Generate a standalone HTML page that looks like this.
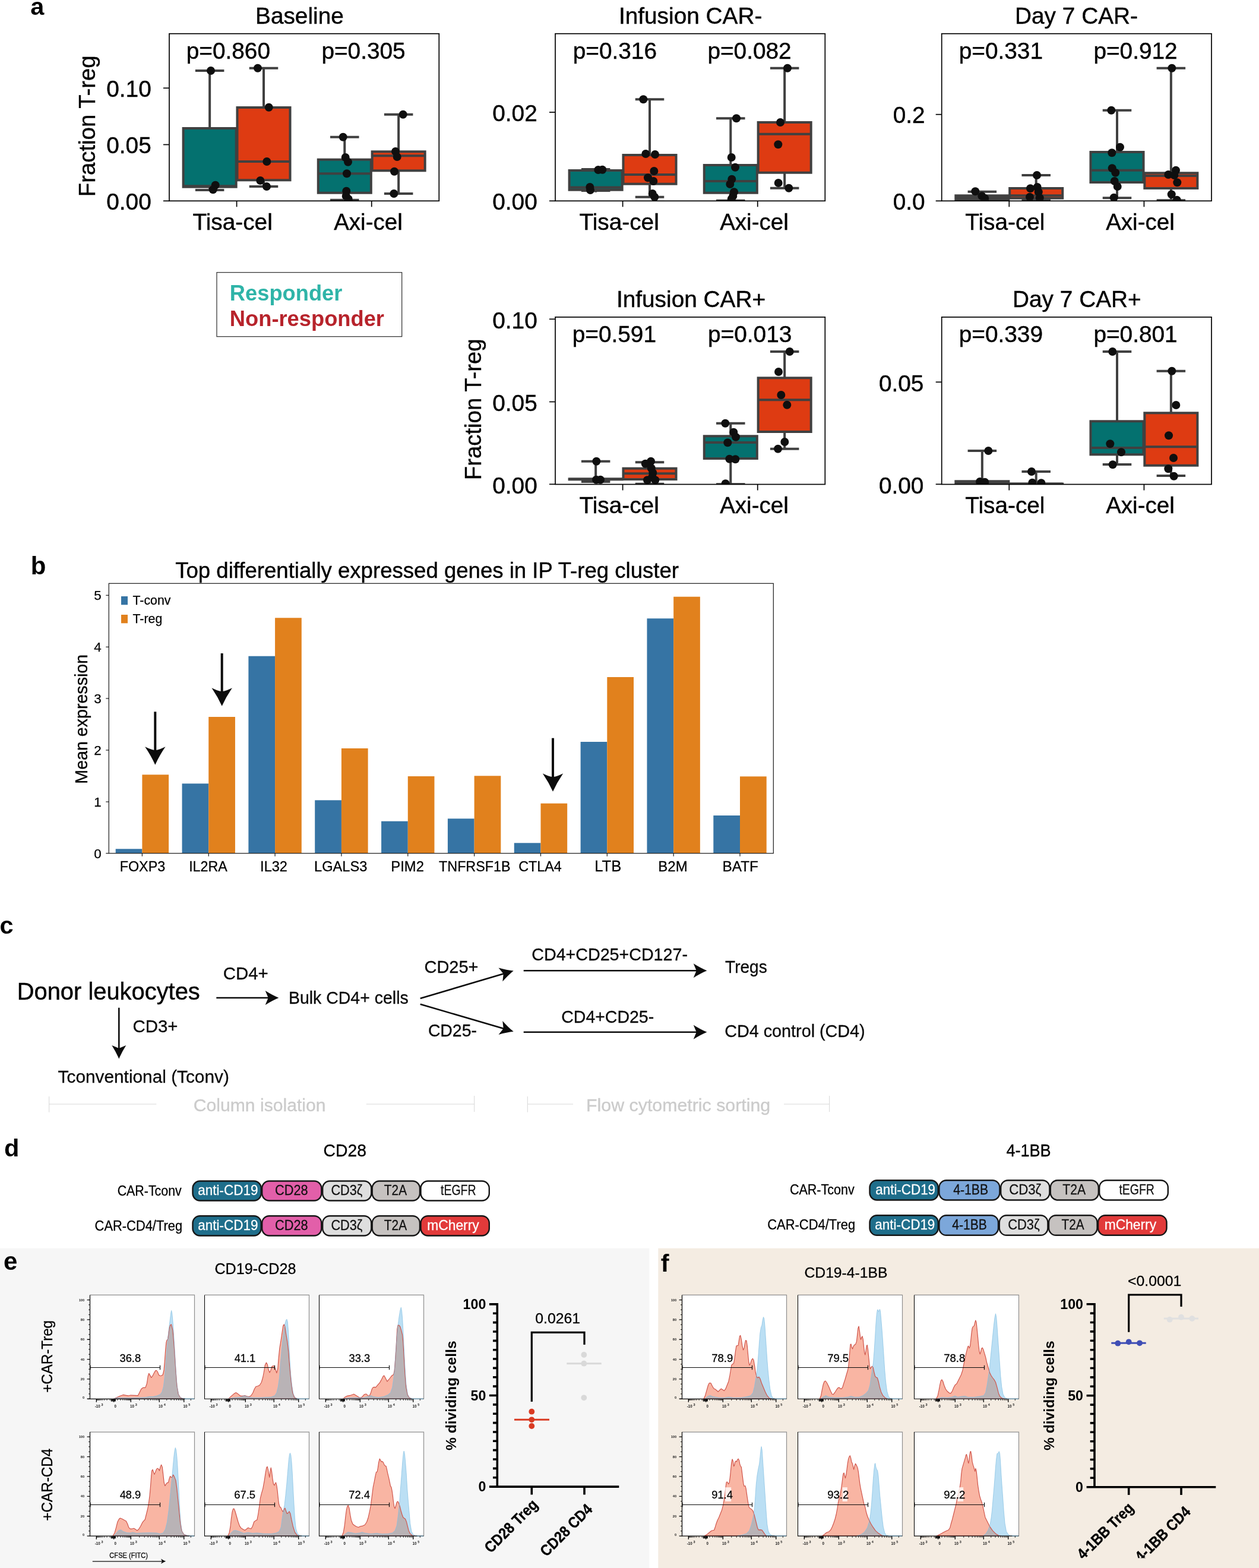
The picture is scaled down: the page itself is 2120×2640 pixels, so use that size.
<!DOCTYPE html>
<html lang="en">
<head>
<meta charset="utf-8">
<title>Figure: T-reg fractions and CAR-Treg suppression</title>
<style>
html,body{margin:0;padding:0;background:#fff;}
body{width:2120px;height:2640px;overflow:hidden;}
svg{display:block;font-family:"Liberation Sans",sans-serif;}
text{white-space:pre;}
</style>
</head>
<body>
<svg width="2120" height="2640" viewBox="0 0 2120 2640">
<rect x="0" y="0" width="2120" height="2640" fill="#fff"/>
<g id="panel-a">
<text x="51.36" y="25" font-size="41.5" font-weight="bold">a</text>
<g id="P1">
<clipPath id="cpP1"><rect x="285" y="56.7" width="454.3" height="281.6"/></clipPath>
<g clip-path="url(#cpP1)">
<path d="M353.14 119V214M353.14 316.7V320M330.88 119H375.41M330.88 320H375.41" stroke="#404040" stroke-width="4" fill="none" stroke-linecap="square"/>
<rect x="308.62" y="216" width="89.04" height="98.7" fill="#04716f" stroke="#404040" stroke-width="4"/>
<line x1="308.62" y1="313.3" x2="397.67" y2="313.3" stroke="#404040" stroke-width="4"/>
<path d="M444 114.7V179M444 305.3V314M421.74 114.7H466.27M421.74 314H466.27" stroke="#404040" stroke-width="4" fill="none" stroke-linecap="square"/>
<rect x="399.48" y="181" width="89.04" height="122.3" fill="#de3b12" stroke="#404040" stroke-width="4"/>
<line x1="399.48" y1="272" x2="488.53" y2="272" stroke="#404040" stroke-width="4"/>
<path d="M580.3 230.7V266.7M580.3 326.7V336.7M558.03 230.7H602.56M558.03 336.7H602.56" stroke="#404040" stroke-width="4" fill="none" stroke-linecap="square"/>
<rect x="535.77" y="268.7" width="89.04" height="56" fill="#04716f" stroke="#404040" stroke-width="4"/>
<line x1="535.77" y1="292.3" x2="624.82" y2="292.3" stroke="#404040" stroke-width="4"/>
<path d="M671.15 192.7V253.3M671.15 289.3V326M648.89 192.7H693.42M648.89 326H693.42" stroke="#404040" stroke-width="4" fill="none" stroke-linecap="square"/>
<rect x="626.63" y="255.3" width="89.04" height="32" fill="#de3b12" stroke="#404040" stroke-width="4"/>
<line x1="626.63" y1="262.3" x2="715.68" y2="262.3" stroke="#404040" stroke-width="4"/>
<g fill="#0f0f0f"><circle cx="355" cy="119" r="7"/><circle cx="362.7" cy="311.7" r="7"/><circle cx="358.7" cy="319.3" r="7"/><circle cx="434" cy="114.7" r="7"/><circle cx="452.7" cy="180.7" r="7"/><circle cx="449.3" cy="272" r="7"/><circle cx="438.3" cy="304" r="7"/><circle cx="449" cy="314" r="7"/><circle cx="577.7" cy="230.7" r="7"/><circle cx="581.7" cy="265" r="7"/><circle cx="586" cy="272.7" r="7"/><circle cx="584" cy="292.3" r="7"/><circle cx="583.3" cy="321.7" r="7"/><circle cx="582.7" cy="330" r="7"/><circle cx="586.7" cy="335" r="7"/><circle cx="678.7" cy="192.7" r="7"/><circle cx="666" cy="255" r="7"/><circle cx="668.7" cy="264" r="7"/><circle cx="664" cy="288.7" r="7"/><circle cx="663.3" cy="326" r="7"/></g>
</g>
<rect x="285" y="56.7" width="454.3" height="281.6" fill="none" stroke="#000" stroke-width="1.7"/>
<line x1="398.57" y1="338.3" x2="398.57" y2="348.3" stroke="#000" stroke-width="1.7"/>
<line x1="625.73" y1="338.3" x2="625.73" y2="348.3" stroke="#000" stroke-width="1.7"/>
<line x1="275" y1="148.3" x2="285" y2="148.3" stroke="#000" stroke-width="1.7"/>
<text x="179.25" y="162.9" font-size="38.8" stroke="#000" stroke-width="0.43">0.10</text>
<line x1="275" y1="243.5" x2="285" y2="243.5" stroke="#000" stroke-width="1.7"/>
<text x="179.25" y="258.1" font-size="38.8" stroke="#000" stroke-width="0.43">0.05</text>
<line x1="275" y1="338.3" x2="285" y2="338.3" stroke="#000" stroke-width="1.7"/>
<text x="179.25" y="352.9" font-size="38.8" stroke="#000" stroke-width="0.43">0.00</text>
<text x="430" y="40" font-size="38.8" stroke="#000" stroke-width="0.43">Baseline</text>
<text x="313.68" y="98.9" font-size="38.8" stroke="#000" stroke-width="0.43">p=0.860</text>
<text x="541.38" y="98.9" font-size="38.8" stroke="#000" stroke-width="0.43">p=0.305</text>
<text x="324.43" y="386.9" font-size="38.8" stroke="#000" stroke-width="0.43">Tisa-cel</text>
<text x="562.2" y="386.9" font-size="38.5" stroke="#000" stroke-width="0.42">Axi-cel</text>
<text font-size="38.3" stroke="#000" stroke-width="0.42" transform="translate(160.2 331.16) rotate(-90)">Fraction T-reg</text>
</g>
<g id="P2">
<clipPath id="cpP2"><rect x="935" y="56.7" width="454.3" height="281.6"/></clipPath>
<g clip-path="url(#cpP2)">
<path d="M1003.14 285V285M1003.14 321.7V321M980.88 285H1025.41M980.88 321H1025.41" stroke="#404040" stroke-width="4" fill="none" stroke-linecap="square"/>
<rect x="958.62" y="287" width="89.04" height="32.7" fill="#04716f" stroke="#404040" stroke-width="4"/>
<line x1="958.62" y1="315.5" x2="1047.67" y2="315.5" stroke="#404040" stroke-width="4"/>
<path d="M1094.01 167.3V259M1094.01 311.7V331.7M1071.74 167.3H1116.27M1071.74 331.7H1116.27" stroke="#404040" stroke-width="4" fill="none" stroke-linecap="square"/>
<rect x="1049.48" y="261" width="89.04" height="48.7" fill="#de3b12" stroke="#404040" stroke-width="4"/>
<line x1="1049.48" y1="294" x2="1138.53" y2="294" stroke="#404040" stroke-width="4"/>
<path d="M1230.29 199.3V276M1230.29 326.7V337.7M1208.03 199.3H1252.56M1208.03 337.7H1252.56" stroke="#404040" stroke-width="4" fill="none" stroke-linecap="square"/>
<rect x="1185.77" y="278" width="89.04" height="46.7" fill="#04716f" stroke="#404040" stroke-width="4"/>
<line x1="1185.77" y1="305" x2="1274.82" y2="305" stroke="#404040" stroke-width="4"/>
<path d="M1321.15 114.7V204M1321.15 292.7V316.7M1298.89 114.7H1343.42M1298.89 316.7H1343.42" stroke="#404040" stroke-width="4" fill="none" stroke-linecap="square"/>
<rect x="1276.63" y="206" width="89.04" height="84.7" fill="#de3b12" stroke="#404040" stroke-width="4"/>
<line x1="1276.63" y1="225.7" x2="1365.68" y2="225.7" stroke="#404040" stroke-width="4"/>
<g fill="#0f0f0f"><circle cx="1007.3" cy="286" r="7"/><circle cx="1014.3" cy="285.7" r="7"/><circle cx="993.3" cy="315" r="7"/><circle cx="994" cy="320" r="7"/><circle cx="1083.3" cy="167.3" r="7"/><circle cx="1087.3" cy="259" r="7"/><circle cx="1103" cy="260" r="7"/><circle cx="1101.3" cy="288" r="7"/><circle cx="1091" cy="299.3" r="7"/><circle cx="1100.3" cy="305" r="7"/><circle cx="1098.7" cy="326" r="7"/><circle cx="1102.3" cy="331.7" r="7"/><circle cx="1240" cy="199.3" r="7"/><circle cx="1231.7" cy="265" r="7"/><circle cx="1238" cy="281.7" r="7"/><circle cx="1232.3" cy="301.7" r="7"/><circle cx="1229.3" cy="310" r="7"/><circle cx="1236" cy="323.3" r="7"/><circle cx="1234.3" cy="330" r="7"/><circle cx="1231.7" cy="335" r="7"/><circle cx="1326" cy="114.7" r="7"/><circle cx="1314" cy="206" r="7"/><circle cx="1310.3" cy="243.3" r="7"/><circle cx="1310.7" cy="308" r="7"/><circle cx="1328.3" cy="316.7" r="7"/></g>
</g>
<rect x="935" y="56.7" width="454.3" height="281.6" fill="none" stroke="#000" stroke-width="1.7"/>
<line x1="1048.58" y1="338.3" x2="1048.58" y2="348.3" stroke="#000" stroke-width="1.7"/>
<line x1="1275.72" y1="338.3" x2="1275.72" y2="348.3" stroke="#000" stroke-width="1.7"/>
<line x1="925" y1="189" x2="935" y2="189" stroke="#000" stroke-width="1.7"/>
<text x="829.25" y="203.6" font-size="38.8" stroke="#000" stroke-width="0.43">0.02</text>
<line x1="925" y1="338.3" x2="935" y2="338.3" stroke="#000" stroke-width="1.7"/>
<text x="829.25" y="352.9" font-size="38.8" stroke="#000" stroke-width="0.43">0.00</text>
<text x="1041.91" y="40" font-size="38.8" stroke="#000" stroke-width="0.43">Infusion CAR-</text>
<text x="964.68" y="98.9" font-size="38.8" stroke="#000" stroke-width="0.43">p=0.316</text>
<text x="1191.38" y="98.9" font-size="38.8" stroke="#000" stroke-width="0.43">p=0.082</text>
<text x="975.43" y="386.9" font-size="38.8" stroke="#000" stroke-width="0.43">Tisa-cel</text>
<text x="1212.2" y="386.9" font-size="38.5" stroke="#000" stroke-width="0.42">Axi-cel</text>
</g>
<g id="P3">
<clipPath id="cpP3"><rect x="1585.7" y="56.7" width="454.3" height="281.6"/></clipPath>
<g clip-path="url(#cpP3)">
<path d="M1653.85 322.7V327.3M1653.85 338.5V337.5M1631.58 322.7H1676.11M1631.58 337.5H1676.11" stroke="#404040" stroke-width="4" fill="none" stroke-linecap="square"/>
<rect x="1609.32" y="329.3" width="89.04" height="7.2" fill="#04716f" stroke="#404040" stroke-width="4"/>
<line x1="1609.32" y1="333" x2="1698.37" y2="333" stroke="#404040" stroke-width="4"/>
<path d="M1744.71 295V315M1744.71 335.7V337M1722.44 295H1766.97M1722.44 337H1766.97" stroke="#404040" stroke-width="4" fill="none" stroke-linecap="square"/>
<rect x="1700.18" y="317" width="89.04" height="16.7" fill="#de3b12" stroke="#404040" stroke-width="4"/>
<line x1="1700.18" y1="329.3" x2="1789.23" y2="329.3" stroke="#404040" stroke-width="4"/>
<path d="M1881 185.7V254M1881 309V333.3M1858.73 185.7H1903.26M1858.73 333.3H1903.26" stroke="#404040" stroke-width="4" fill="none" stroke-linecap="square"/>
<rect x="1836.47" y="256" width="89.04" height="51" fill="#04716f" stroke="#404040" stroke-width="4"/>
<line x1="1836.47" y1="286.7" x2="1925.52" y2="286.7" stroke="#404040" stroke-width="4"/>
<path d="M1971.86 114.7V289.3M1971.86 319V337.3M1949.59 114.7H1994.12M1949.59 337.3H1994.12" stroke="#404040" stroke-width="4" fill="none" stroke-linecap="square"/>
<rect x="1927.33" y="291.3" width="89.04" height="25.7" fill="#de3b12" stroke="#404040" stroke-width="4"/>
<line x1="1927.33" y1="296" x2="2016.38" y2="296" stroke="#404040" stroke-width="4"/>
<g fill="#0f0f0f"><circle cx="1642.3" cy="322.3" r="7"/><circle cx="1653.3" cy="330" r="7"/><circle cx="1658.3" cy="334" r="7"/><circle cx="1746" cy="295" r="7"/><circle cx="1735" cy="317.3" r="7"/><circle cx="1746.7" cy="315" r="7"/><circle cx="1748.7" cy="323.3" r="7"/><circle cx="1734" cy="331.7" r="7"/><circle cx="1750.7" cy="333.3" r="7"/><circle cx="1871.3" cy="185.7" r="7"/><circle cx="1886" cy="247.7" r="7"/><circle cx="1872.3" cy="257.3" r="7"/><circle cx="1872.7" cy="283.3" r="7"/><circle cx="1878.3" cy="290.7" r="7"/><circle cx="1876.7" cy="305" r="7"/><circle cx="1881.7" cy="314" r="7"/><circle cx="1875.7" cy="332.7" r="7"/><circle cx="1973.3" cy="114.7" r="7"/><circle cx="1980" cy="286.7" r="7"/><circle cx="1967.3" cy="294" r="7"/><circle cx="1977.3" cy="295" r="7"/><circle cx="1982.3" cy="307.3" r="7"/><circle cx="1972.7" cy="327.3" r="7"/><circle cx="1981.7" cy="336.7" r="7"/></g>
</g>
<rect x="1585.7" y="56.7" width="454.3" height="281.6" fill="none" stroke="#000" stroke-width="1.7"/>
<line x1="1699.28" y1="338.3" x2="1699.28" y2="348.3" stroke="#000" stroke-width="1.7"/>
<line x1="1926.43" y1="338.3" x2="1926.43" y2="348.3" stroke="#000" stroke-width="1.7"/>
<line x1="1575.7" y1="192.7" x2="1585.7" y2="192.7" stroke="#000" stroke-width="1.7"/>
<text x="1503.65" y="207.3" font-size="38.8" stroke="#000" stroke-width="0.43">0.2</text>
<line x1="1575.7" y1="338.3" x2="1585.7" y2="338.3" stroke="#000" stroke-width="1.7"/>
<text x="1503.65" y="352.9" font-size="38.8" stroke="#000" stroke-width="0.43">0.0</text>
<text x="1709" y="40" font-size="38.8" stroke="#000" stroke-width="0.43">Day 7 CAR-</text>
<text x="1614.68" y="98.9" font-size="38.8" stroke="#000" stroke-width="0.43">p=0.331</text>
<text x="1841.38" y="98.9" font-size="38.8" stroke="#000" stroke-width="0.43">p=0.912</text>
<text x="1625.13" y="386.9" font-size="38.8" stroke="#000" stroke-width="0.43">Tisa-cel</text>
<text x="1862.2" y="386.9" font-size="38.5" stroke="#000" stroke-width="0.42">Axi-cel</text>
</g>
<g id="P4">
<clipPath id="cpP4"><rect x="935" y="533.9" width="454.3" height="281.6"/></clipPath>
<g clip-path="url(#cpP4)">
<path d="M1003.14 776.7V804.3M1003.14 809.3V811M980.88 776.7H1025.41M980.88 811H1025.41" stroke="#404040" stroke-width="4" fill="none" stroke-linecap="square"/>
<rect x="958.62" y="806.3" width="89.04" height="1" fill="#04716f" stroke="#404040" stroke-width="4"/>
<line x1="958.62" y1="806.8" x2="1047.67" y2="806.8" stroke="#404040" stroke-width="4"/>
<path d="M1094.01 778.3V786.7M1094.01 809V814.7M1071.74 778.3H1116.27M1071.74 814.7H1116.27" stroke="#404040" stroke-width="4" fill="none" stroke-linecap="square"/>
<rect x="1049.48" y="788.7" width="89.04" height="18.3" fill="#de3b12" stroke="#404040" stroke-width="4"/>
<line x1="1049.48" y1="797.3" x2="1138.53" y2="797.3" stroke="#404040" stroke-width="4"/>
<path d="M1230.29 712.7V732.3M1230.29 774V815.3M1208.03 712.7H1252.56M1208.03 815.3H1252.56" stroke="#404040" stroke-width="4" fill="none" stroke-linecap="square"/>
<rect x="1185.77" y="734.3" width="89.04" height="37.7" fill="#04716f" stroke="#404040" stroke-width="4"/>
<line x1="1185.77" y1="745" x2="1274.82" y2="745" stroke="#404040" stroke-width="4"/>
<path d="M1321.15 592V634.3M1321.15 729V755.7M1298.89 592H1343.42M1298.89 755.7H1343.42" stroke="#404040" stroke-width="4" fill="none" stroke-linecap="square"/>
<rect x="1276.63" y="636.3" width="89.04" height="90.7" fill="#de3b12" stroke="#404040" stroke-width="4"/>
<line x1="1276.63" y1="673.3" x2="1365.68" y2="673.3" stroke="#404040" stroke-width="4"/>
<g fill="#0f0f0f"><circle cx="1004.3" cy="776.7" r="7"/><circle cx="1004" cy="807.7" r="7"/><circle cx="1011" cy="807.7" r="7"/><circle cx="1096" cy="776.7" r="7"/><circle cx="1086.7" cy="780.7" r="7"/><circle cx="1096.7" cy="788.3" r="7"/><circle cx="1099.3" cy="796" r="7"/><circle cx="1098.3" cy="803.3" r="7"/><circle cx="1090" cy="808.3" r="7"/><circle cx="1103.3" cy="808.3" r="7"/><circle cx="1221.3" cy="712.7" r="7"/><circle cx="1235.3" cy="727.7" r="7"/><circle cx="1239" cy="735.7" r="7"/><circle cx="1225.3" cy="745.3" r="7"/><circle cx="1228.3" cy="772.7" r="7"/><circle cx="1238.3" cy="773.3" r="7"/><circle cx="1221.7" cy="814.3" r="7"/><circle cx="1329.7" cy="592" r="7"/><circle cx="1311" cy="626" r="7"/><circle cx="1315.3" cy="665" r="7"/><circle cx="1325.3" cy="681.7" r="7"/><circle cx="1321.3" cy="744" r="7"/><circle cx="1310" cy="755.7" r="7"/></g>
</g>
<rect x="935" y="533.9" width="454.3" height="281.6" fill="none" stroke="#000" stroke-width="1.7"/>
<line x1="1048.58" y1="815.5" x2="1048.58" y2="825.5" stroke="#000" stroke-width="1.7"/>
<line x1="1275.72" y1="815.5" x2="1275.72" y2="825.5" stroke="#000" stroke-width="1.7"/>
<line x1="925" y1="537.3" x2="935" y2="537.3" stroke="#000" stroke-width="1.7"/>
<text x="829.25" y="552.5" font-size="38.8" stroke="#000" stroke-width="0.43">0.10</text>
<line x1="925" y1="676.5" x2="935" y2="676.5" stroke="#000" stroke-width="1.7"/>
<text x="829.25" y="691.7" font-size="38.8" stroke="#000" stroke-width="0.43">0.05</text>
<line x1="925" y1="815.3" x2="935" y2="815.3" stroke="#000" stroke-width="1.7"/>
<text x="829.25" y="830.5" font-size="38.8" stroke="#000" stroke-width="0.43">0.00</text>
<text x="1037.91" y="517.2" font-size="38.8" stroke="#000" stroke-width="0.43">Infusion CAR+</text>
<text x="963.68" y="576.1" font-size="38.8" stroke="#000" stroke-width="0.43">p=0.591</text>
<text x="1191.98" y="576.1" font-size="38.8" stroke="#000" stroke-width="0.43">p=0.013</text>
<text x="975.43" y="864.1" font-size="38.8" stroke="#000" stroke-width="0.43">Tisa-cel</text>
<text x="1212.2" y="864.1" font-size="38.5" stroke="#000" stroke-width="0.42">Axi-cel</text>
<text font-size="38.3" stroke="#000" stroke-width="0.42" transform="translate(809.9 808.16) rotate(-90)">Fraction T-reg</text>
</g>
<g id="P5">
<clipPath id="cpP5"><rect x="1585.7" y="533.9" width="454.3" height="281.6"/></clipPath>
<g clip-path="url(#cpP5)">
<path d="M1653.85 759V808.3M1653.85 816.5V815M1631.58 759H1676.11M1631.58 815H1676.11" stroke="#404040" stroke-width="4" fill="none" stroke-linecap="square"/>
<rect x="1609.32" y="810.3" width="89.04" height="4.2" fill="#04716f" stroke="#404040" stroke-width="4"/>
<line x1="1609.32" y1="812" x2="1698.37" y2="812" stroke="#404040" stroke-width="4"/>
<path d="M1744.71 794V813.5M1744.71 816V815M1722.44 794H1766.97M1722.44 815H1766.97" stroke="#404040" stroke-width="4" fill="none" stroke-linecap="square"/>
<rect x="1700.18" y="814.6" width="89.04" height="0.3" fill="#de3b12" stroke="#404040" stroke-width="4"/>
<line x1="1700.18" y1="814.5" x2="1789.23" y2="814.5" stroke="#404040" stroke-width="4"/>
<path d="M1881 592V707.3M1881 767.3V782M1858.73 592H1903.26M1858.73 782H1903.26" stroke="#404040" stroke-width="4" fill="none" stroke-linecap="square"/>
<rect x="1836.47" y="709.3" width="89.04" height="56" fill="#04716f" stroke="#404040" stroke-width="4"/>
<line x1="1836.47" y1="754" x2="1925.52" y2="754" stroke="#404040" stroke-width="4"/>
<path d="M1971.86 624.7V693.3M1971.86 785.7V801M1949.59 624.7H1994.12M1949.59 801H1994.12" stroke="#404040" stroke-width="4" fill="none" stroke-linecap="square"/>
<rect x="1927.33" y="695.3" width="89.04" height="88.4" fill="#de3b12" stroke="#404040" stroke-width="4"/>
<line x1="1927.33" y1="752.3" x2="2016.38" y2="752.3" stroke="#404040" stroke-width="4"/>
<g fill="#0f0f0f"><circle cx="1664.3" cy="759" r="7"/><circle cx="1650" cy="811" r="7"/><circle cx="1658.3" cy="811.7" r="7"/><circle cx="1737" cy="794" r="7"/><circle cx="1738.3" cy="812.7" r="7"/><circle cx="1753.3" cy="813.3" r="7"/><circle cx="1873.3" cy="592" r="7"/><circle cx="1869.3" cy="747.3" r="7"/><circle cx="1888" cy="761.3" r="7"/><circle cx="1873.7" cy="782.3" r="7"/><circle cx="1973.3" cy="624.7" r="7"/><circle cx="1980.3" cy="682" r="7"/><circle cx="1968" cy="733.3" r="7"/><circle cx="1976" cy="771" r="7"/><circle cx="1967.3" cy="789.3" r="7"/><circle cx="1976.7" cy="801.7" r="7"/></g>
</g>
<rect x="1585.7" y="533.9" width="454.3" height="281.6" fill="none" stroke="#000" stroke-width="1.7"/>
<line x1="1699.28" y1="815.5" x2="1699.28" y2="825.5" stroke="#000" stroke-width="1.7"/>
<line x1="1926.43" y1="815.5" x2="1926.43" y2="825.5" stroke="#000" stroke-width="1.7"/>
<line x1="1575.7" y1="643.3" x2="1585.7" y2="643.3" stroke="#000" stroke-width="1.7"/>
<text x="1479.95" y="658.5" font-size="38.8" stroke="#000" stroke-width="0.43">0.05</text>
<line x1="1575.7" y1="815.3" x2="1585.7" y2="815.3" stroke="#000" stroke-width="1.7"/>
<text x="1479.95" y="830.5" font-size="38.8" stroke="#000" stroke-width="0.43">0.00</text>
<text x="1705" y="517.2" font-size="38.8" stroke="#000" stroke-width="0.43">Day 7 CAR+</text>
<text x="1614.68" y="576.1" font-size="38.8" stroke="#000" stroke-width="0.43">p=0.339</text>
<text x="1841.38" y="576.1" font-size="38.8" stroke="#000" stroke-width="0.43">p=0.801</text>
<text x="1625.13" y="864.1" font-size="38.8" stroke="#000" stroke-width="0.43">Tisa-cel</text>
<text x="1862.2" y="864.1" font-size="38.5" stroke="#000" stroke-width="0.42">Axi-cel</text>
</g>
<rect x="365" y="458.7" width="311.7" height="108" fill="#fff" stroke="#2b2b2b" stroke-width="1.2"/>
<text x="386.85" y="506" font-size="36.3" font-weight="bold" fill="#2fb4a8">Responder</text>
<text x="386.85" y="549" font-size="36.3" font-weight="bold" fill="#b7232b">Non-responder</text>
</g>
<g id="panel-b">
<text x="51.87" y="966.7" font-size="42" font-weight="bold">b</text>
<text x="295.18" y="973.3" font-size="36.6" stroke="#000" stroke-width="0.4">Top differentially expressed genes in IP T-reg cluster</text>
<g fill="#3674a4"><rect x="194.7" y="1429.3" width="44.7" height="7.4"/><rect x="306.54" y="1319.3" width="44.7" height="117.4"/><rect x="418.39" y="1104.7" width="44.7" height="332"/><rect x="530.23" y="1347.3" width="44.7" height="89.4"/><rect x="642.08" y="1382.7" width="44.7" height="54"/><rect x="753.92" y="1378.3" width="44.7" height="58.4"/><rect x="865.77" y="1419.3" width="44.7" height="17.4"/><rect x="977.61" y="1249" width="44.7" height="187.7"/><rect x="1089.46" y="1041.3" width="44.7" height="395.4"/><rect x="1201.3" y="1373" width="44.7" height="63.7"/></g>
<g fill="#e1811d"><rect x="239.4" y="1304.3" width="44.7" height="132.4"/><rect x="351.24" y="1207" width="44.7" height="229.7"/><rect x="463.09" y="1040.3" width="44.7" height="396.4"/><rect x="574.93" y="1260" width="44.7" height="176.7"/><rect x="686.78" y="1307" width="44.7" height="129.7"/><rect x="798.62" y="1306.3" width="44.7" height="130.4"/><rect x="910.47" y="1352.7" width="44.7" height="84"/><rect x="1022.31" y="1140" width="44.7" height="296.7"/><rect x="1134.16" y="1004.7" width="44.7" height="432"/><rect x="1246" y="1307.3" width="44.7" height="129.4"/></g>
<rect x="183.3" y="982.3" width="1119" height="454.4" fill="none" stroke="#1a1a1a" stroke-width="1.2"/>
<line x1="239.4" y1="1436.7" x2="239.4" y2="1441.7" stroke="#1a1a1a" stroke-width="1.2"/>
<text x="201.67" y="1466.7" font-size="23.38" stroke="#000" stroke-width="0.26">FOXP3</text>
<line x1="351.24" y1="1436.7" x2="351.24" y2="1441.7" stroke="#1a1a1a" stroke-width="1.2"/>
<text x="318.15" y="1466.7" font-size="23.24" stroke="#000" stroke-width="0.26">IL2RA</text>
<line x1="463.09" y1="1436.7" x2="463.09" y2="1441.7" stroke="#1a1a1a" stroke-width="1.2"/>
<text x="438.12" y="1466.7" font-size="23.52" stroke="#000" stroke-width="0.26">IL32</text>
<line x1="574.93" y1="1436.7" x2="574.93" y2="1441.7" stroke="#1a1a1a" stroke-width="1.2"/>
<text x="529.05" y="1466.7" font-size="23.61" stroke="#000" stroke-width="0.26">LGALS3</text>
<line x1="686.78" y1="1436.7" x2="686.78" y2="1441.7" stroke="#1a1a1a" stroke-width="1.2"/>
<text x="658.33" y="1466.7" font-size="23.82" stroke="#000" stroke-width="0.26">PIM2</text>
<line x1="798.62" y1="1436.7" x2="798.62" y2="1441.7" stroke="#1a1a1a" stroke-width="1.2"/>
<text x="739.08" y="1466.7" font-size="23.31" stroke="#000" stroke-width="0.26">TNFRSF1B</text>
<line x1="910.47" y1="1436.7" x2="910.47" y2="1441.7" stroke="#1a1a1a" stroke-width="1.2"/>
<text x="873.13" y="1466.7" font-size="23.31" stroke="#000" stroke-width="0.26">CTLA4</text>
<line x1="1022.31" y1="1436.7" x2="1022.31" y2="1441.7" stroke="#1a1a1a" stroke-width="1.2"/>
<text x="1001.18" y="1466.7" font-size="25.66" stroke="#000" stroke-width="0.28">LTB</text>
<line x1="1134.16" y1="1436.7" x2="1134.16" y2="1441.7" stroke="#1a1a1a" stroke-width="1.2"/>
<text x="1108.32" y="1466.7" font-size="24.02" stroke="#000" stroke-width="0.26">B2M</text>
<line x1="1246" y1="1436.7" x2="1246" y2="1441.7" stroke="#1a1a1a" stroke-width="1.2"/>
<text x="1216.59" y="1466.7" font-size="24.35" stroke="#000" stroke-width="0.27">BATF</text>
<line x1="178.3" y1="1436.7" x2="183.3" y2="1436.7" stroke="#1a1a1a" stroke-width="1.2"/>
<text x="170.6" y="1444.7" font-size="22.4" stroke="#000" stroke-width="0.25" text-anchor="end">0</text>
<line x1="178.3" y1="1350" x2="183.3" y2="1350" stroke="#1a1a1a" stroke-width="1.2"/>
<text x="170.6" y="1358" font-size="22.4" stroke="#000" stroke-width="0.25" text-anchor="end">1</text>
<line x1="178.3" y1="1263" x2="183.3" y2="1263" stroke="#1a1a1a" stroke-width="1.2"/>
<text x="170.6" y="1271" font-size="22.4" stroke="#000" stroke-width="0.25" text-anchor="end">2</text>
<line x1="178.3" y1="1176" x2="183.3" y2="1176" stroke="#1a1a1a" stroke-width="1.2"/>
<text x="170.6" y="1184" font-size="22.4" stroke="#000" stroke-width="0.25" text-anchor="end">3</text>
<line x1="178.3" y1="1089.3" x2="183.3" y2="1089.3" stroke="#1a1a1a" stroke-width="1.2"/>
<text x="170.6" y="1097.3" font-size="22.4" stroke="#000" stroke-width="0.25" text-anchor="end">4</text>
<line x1="178.3" y1="1002.3" x2="183.3" y2="1002.3" stroke="#1a1a1a" stroke-width="1.2"/>
<text x="170.6" y="1010.3" font-size="22.4" stroke="#000" stroke-width="0.25" text-anchor="end">5</text>
<text font-size="28.6" stroke="#000" stroke-width="0.31" transform="translate(146.7 1319.66) rotate(-90)">Mean expression</text>
<rect x="204" y="1004" width="11" height="14.3" fill="#3674a4"/>
<rect x="204" y="1035" width="11" height="14.3" fill="#e1811d"/>
<text x="223.52" y="1018.3" font-size="21.3" stroke="#000" stroke-width="0.25">T-conv</text>
<text x="223.52" y="1049.3" font-size="21.3" stroke="#000" stroke-width="0.25">T-reg</text>
<path d="M261.3 1198.3V1264.2" stroke="#0c0c0c" stroke-width="4" fill="none"/>
<path d="M261.3 1287.7Q254.42 1272.45 244.1 1257.2Q253.56 1262 261.3 1263.2Q269.04 1262 278.5 1257.2Q268.18 1272.45 261.3 1287.7Z" fill="#0c0c0c"/>
<path d="M373.7 1100V1165.2" stroke="#0c0c0c" stroke-width="4" fill="none"/>
<path d="M373.7 1188.7Q366.82 1173.45 356.5 1158.2Q365.96 1163 373.7 1164.2Q381.44 1163 390.9 1158.2Q380.58 1173.45 373.7 1188.7Z" fill="#0c0c0c"/>
<path d="M931 1242.7V1309.2" stroke="#0c0c0c" stroke-width="4" fill="none"/>
<path d="M931 1332.7Q924.12 1317.45 913.8 1302.2Q923.26 1307 931 1308.2Q938.74 1307 948.2 1302.2Q937.88 1317.45 931 1332.7Z" fill="#0c0c0c"/>
</g>
<g id="panel-c">
<text x="-0.46" y="1571.7" font-size="41.5" font-weight="bold">c</text>
<text x="28.71" y="1683.3" font-size="39.88" stroke="#000" stroke-width="0.44">Donor leukocytes</text>
<text x="375.83" y="1648.8" font-size="29.4" stroke="#0a0a0a" stroke-width="0.32" fill="#0a0a0a">CD4+</text>
<text x="223.53" y="1737.8" font-size="29.4" stroke="#0a0a0a" stroke-width="0.32" fill="#0a0a0a">CD3+</text>
<text x="97.63" y="1823.2" font-size="29.4" stroke="#0a0a0a" stroke-width="0.32" fill="#0a0a0a" textLength="288.21" lengthAdjust="spacingAndGlyphs">Tconventional (Tconv)</text>
<text x="485.95" y="1689.8" font-size="29.4" stroke="#0a0a0a" stroke-width="0.32" fill="#0a0a0a" textLength="201.78" lengthAdjust="spacingAndGlyphs">Bulk CD4+ cells</text>
<text x="714.55" y="1637.8" font-size="29.4" stroke="#0a0a0a" stroke-width="0.32" fill="#0a0a0a" textLength="90.84" lengthAdjust="spacingAndGlyphs">CD25+</text>
<text x="720.88" y="1744.5" font-size="29.4" stroke="#0a0a0a" stroke-width="0.32" fill="#0a0a0a" textLength="82.02" lengthAdjust="spacingAndGlyphs">CD25-</text>
<text x="895.27" y="1616.5" font-size="29.4" stroke="#0a0a0a" stroke-width="0.32" fill="#0a0a0a" textLength="262.68" lengthAdjust="spacingAndGlyphs">CD4+CD25+CD127-</text>
<text x="945.28" y="1722.2" font-size="29.4" stroke="#0a0a0a" stroke-width="0.32" fill="#0a0a0a" textLength="155.91" lengthAdjust="spacingAndGlyphs">CD4+CD25-</text>
<text x="1221.07" y="1637.8" font-size="29.4" stroke="#0a0a0a" stroke-width="0.32" fill="#0a0a0a" textLength="70.59" lengthAdjust="spacingAndGlyphs">Tregs</text>
<text x="1220.26" y="1745.5" font-size="29.4" stroke="#0a0a0a" stroke-width="0.32" fill="#0a0a0a" textLength="236.44" lengthAdjust="spacingAndGlyphs">CD4 control (CD4)</text>
<text x="325.79" y="1871" font-size="30.14" stroke="#cbcbcb" stroke-width="0.33" fill="#cbcbcb">Column isolation</text>
<text x="987.1" y="1871" font-size="30.34" stroke="#cbcbcb" stroke-width="0.33" fill="#cbcbcb">Flow cytometric sorting</text>
<g transform="translate(364.3 1680) rotate(0)"><path d="M0 0H88.4" stroke="#0c0c0c" stroke-width="2.6" fill="none"/><path d="M105.1 0Q94.66 -4.32 82.4 -12L87.4 0L82.4 12Q94.66 4.32 105.1 0Z" fill="#0c0c0c"/></g>
<g transform="translate(200.3 1696.7) rotate(90)"><path d="M0 0H69.3" stroke="#0c0c0c" stroke-width="2.6" fill="none"/><path d="M86 0Q75.56 -4.32 63.3 -12L68.3 0L63.3 12Q75.56 4.32 86 0Z" fill="#0c0c0c"/></g>
<g transform="translate(707.7 1681) rotate(-16.47)"><path d="M0 0H147" stroke="#0c0c0c" stroke-width="2.6" fill="none"/><path d="M163.7 0Q153.27 -4.32 141 -12L146 0L141 12Q153.27 4.32 163.7 0Z" fill="#0c0c0c"/></g>
<g transform="translate(707.7 1690.7) rotate(16.37)"><path d="M0 0H146.92" stroke="#0c0c0c" stroke-width="2.6" fill="none"/><path d="M163.62 0Q153.18 -4.32 140.92 -12L145.92 0L140.92 12Q153.18 4.32 163.62 0Z" fill="#0c0c0c"/></g>
<g transform="translate(881.7 1634.3) rotate(0)"><path d="M0 0H292" stroke="#0c0c0c" stroke-width="2.6" fill="none"/><path d="M308.7 0Q298.26 -4.32 286 -12L291 0L286 12Q298.26 4.32 308.7 0Z" fill="#0c0c0c"/></g>
<g transform="translate(881.7 1737.7) rotate(0)"><path d="M0 0H292" stroke="#0c0c0c" stroke-width="2.6" fill="none"/><path d="M308.7 0Q298.26 -4.32 286 -12L291 0L286 12Q298.26 4.32 308.7 0Z" fill="#0c0c0c"/></g>
<path d="M82.7 1846V1872.7M82.7 1859H263.3M616.7 1859H798.7M798.7 1845V1872M888.3 1846V1872.7M888.3 1859H965M1320 1859H1396.7M1396.7 1845V1872" stroke="#d3d3d3" stroke-width="0.9" fill="none"/>
</g>
<g id="panel-d">
<text x="6.94" y="1947.3" font-size="41.5" font-weight="bold">d</text>
<text x="544.58" y="1946.7" font-size="29" stroke="#000" stroke-width="0.32" textLength="72.37" lengthAdjust="spacingAndGlyphs">CD28</text>
<text x="1694.39" y="1946.7" font-size="29" stroke="#000" stroke-width="0.32" textLength="75.31" lengthAdjust="spacingAndGlyphs">4-1BB</text>
<text x="197.63" y="2012.7" font-size="23.3" stroke="#000" stroke-width="0.26" textLength="108.11" lengthAdjust="spacingAndGlyphs">CAR-Tconv</text>
<text x="159.61" y="2071.7" font-size="23.3" stroke="#000" stroke-width="0.26" textLength="147.5" lengthAdjust="spacingAndGlyphs">CAR-CD4/Treg</text>
<text x="1329.92" y="2011" font-size="23.3" stroke="#000" stroke-width="0.26" textLength="108.81" lengthAdjust="spacingAndGlyphs">CAR-Tconv</text>
<text x="1292.2" y="2070" font-size="23.3" stroke="#000" stroke-width="0.26" textLength="147.91" lengthAdjust="spacingAndGlyphs">CAR-CD4/Treg</text>
<rect x="324.5" y="1988.5" width="115.3" height="33" fill="#1f6e8b" stroke="#161616" stroke-width="2.4" rx="12.2"/>
<text x="333.35" y="2012.3" font-size="23.6" stroke="#fff" stroke-width="0.26" fill="#fff" textLength="101.01" lengthAdjust="spacingAndGlyphs">anti-CD19</text>
<rect x="441.2" y="1988.5" width="100.1" height="33" fill="#e25fa9" stroke="#161616" stroke-width="2.4" rx="12.2"/>
<text x="463.11" y="2012.3" font-size="23.6" stroke="#111" stroke-width="0.26" fill="#111" textLength="55.55" lengthAdjust="spacingAndGlyphs">CD28</text>
<rect x="543.2" y="1988.5" width="82.1" height="33" fill="#dedede" stroke="#161616" stroke-width="2.4" rx="12.2"/>
<text x="557.41" y="2012.3" font-size="23.6" stroke="#111" stroke-width="0.26" fill="#111" textLength="53" lengthAdjust="spacingAndGlyphs">CD3ζ</text>
<rect x="626.7" y="1988.5" width="80.3" height="33" fill="#c6c2c0" stroke="#161616" stroke-width="2.4" rx="12.2"/>
<text x="646.83" y="2012.3" font-size="23.6" stroke="#111" stroke-width="0.26" fill="#111" textLength="38.2" lengthAdjust="spacingAndGlyphs">T2A</text>
<rect x="708.5" y="1988.5" width="115.3" height="33" fill="#fff" stroke="#161616" stroke-width="2.4" rx="12.2"/>
<text x="742.01" y="2012.3" font-size="23.6" stroke="#111" stroke-width="0.26" fill="#111" textLength="59.63" lengthAdjust="spacingAndGlyphs">tEGFR</text>
<rect x="324.5" y="2047.2" width="115.3" height="33.3" fill="#1f6e8b" stroke="#161616" stroke-width="2.4" rx="12.2"/>
<text x="333.35" y="2071.15" font-size="23.6" stroke="#fff" stroke-width="0.26" fill="#fff" textLength="101.01" lengthAdjust="spacingAndGlyphs">anti-CD19</text>
<rect x="441.2" y="2047.2" width="100.1" height="33.3" fill="#e25fa9" stroke="#161616" stroke-width="2.4" rx="12.2"/>
<text x="463.11" y="2071.15" font-size="23.6" stroke="#111" stroke-width="0.26" fill="#111" textLength="55.55" lengthAdjust="spacingAndGlyphs">CD28</text>
<rect x="543.2" y="2047.2" width="82.1" height="33.3" fill="#dedede" stroke="#161616" stroke-width="2.4" rx="12.2"/>
<text x="557.41" y="2071.15" font-size="23.6" stroke="#111" stroke-width="0.26" fill="#111" textLength="53" lengthAdjust="spacingAndGlyphs">CD3ζ</text>
<rect x="626.7" y="2047.2" width="80.3" height="33.3" fill="#c6c2c0" stroke="#161616" stroke-width="2.4" rx="12.2"/>
<text x="646.83" y="2071.15" font-size="23.6" stroke="#111" stroke-width="0.26" fill="#111" textLength="38.2" lengthAdjust="spacingAndGlyphs">T2A</text>
<rect x="708.5" y="2047.2" width="115.3" height="33.3" fill="#e23a3a" stroke="#161616" stroke-width="2.4" rx="12.2"/>
<text x="719.16" y="2071.15" font-size="23.6" stroke="#fff" stroke-width="0.26" fill="#fff" textLength="87.62" lengthAdjust="spacingAndGlyphs">mCherry</text>
<rect x="1464.5" y="1987.2" width="115.3" height="33.3" fill="#1f6e8b" stroke="#161616" stroke-width="2.4" rx="12.2"/>
<text x="1474.25" y="2011.15" font-size="23.6" stroke="#fff" stroke-width="0.26" fill="#fff" textLength="100.81" lengthAdjust="spacingAndGlyphs">anti-CD19</text>
<rect x="1581.4" y="1987.2" width="102" height="33.3" fill="#7ca7da" stroke="#161616" stroke-width="2.4" rx="12.2"/>
<text x="1605.22" y="2011.15" font-size="23.6" stroke="#111" stroke-width="0.26" fill="#111" textLength="58.87" lengthAdjust="spacingAndGlyphs">4-1BB</text>
<rect x="1685.2" y="1987.2" width="82.2" height="33.3" fill="#dedede" stroke="#161616" stroke-width="2.4" rx="12.2"/>
<text x="1699.19" y="2011.15" font-size="23.6" stroke="#111" stroke-width="0.26" fill="#111" textLength="54.23" lengthAdjust="spacingAndGlyphs">CD3ζ</text>
<rect x="1768.8" y="1987.2" width="81" height="33.3" fill="#c6c2c0" stroke="#161616" stroke-width="2.4" rx="12.2"/>
<text x="1789.22" y="2011.15" font-size="23.6" stroke="#111" stroke-width="0.26" fill="#111" textLength="38.81" lengthAdjust="spacingAndGlyphs">T2A</text>
<rect x="1851.2" y="1987.2" width="115.6" height="33.3" fill="#fff" stroke="#161616" stroke-width="2.4" rx="12.2"/>
<text x="1884.41" y="2011.15" font-size="23.6" stroke="#111" stroke-width="0.26" fill="#111" textLength="59.53" lengthAdjust="spacingAndGlyphs">tEGFR</text>
<rect x="1464.5" y="2046.2" width="115.3" height="33.6" fill="#1f6e8b" stroke="#161616" stroke-width="2.4" rx="12.2"/>
<text x="1473.25" y="2070.3" font-size="23.6" stroke="#fff" stroke-width="0.26" fill="#fff" textLength="101.11" lengthAdjust="spacingAndGlyphs">anti-CD19</text>
<rect x="1581.4" y="2046.2" width="99.6" height="33.6" fill="#7ca7da" stroke="#161616" stroke-width="2.4" rx="12.2"/>
<text x="1603.23" y="2070.3" font-size="23.6" stroke="#111" stroke-width="0.26" fill="#111" textLength="58.57" lengthAdjust="spacingAndGlyphs">4-1BB</text>
<rect x="1682.8" y="2046.2" width="81.6" height="33.6" fill="#dedede" stroke="#161616" stroke-width="2.4" rx="12.2"/>
<text x="1697.2" y="2070.3" font-size="23.6" stroke="#111" stroke-width="0.26" fill="#111" textLength="53.51" lengthAdjust="spacingAndGlyphs">CD3ζ</text>
<rect x="1766" y="2046.2" width="81.6" height="33.6" fill="#c6c2c0" stroke="#161616" stroke-width="2.4" rx="12.2"/>
<text x="1787.53" y="2070.3" font-size="23.6" stroke="#111" stroke-width="0.26" fill="#111" textLength="38.2" lengthAdjust="spacingAndGlyphs">T2A</text>
<rect x="1849" y="2046.2" width="115.5" height="33.6" fill="#e23a3a" stroke="#161616" stroke-width="2.4" rx="12.2"/>
<text x="1859.76" y="2070.3" font-size="23.6" stroke="#fff" stroke-width="0.26" fill="#fff" textLength="87.32" lengthAdjust="spacingAndGlyphs">mCherry</text>
</g>
<g id="panel-ef">
<rect x="0" y="2101.7" width="1093.3" height="540" fill="#f6f6f6"/>
<rect x="1108.3" y="2101.7" width="1012" height="540" fill="#f4ece2"/>
<text x="5.92" y="2138.3" font-size="42" font-weight="bold">e</text>
<text x="1112.77" y="2140.7" font-size="41.5" font-weight="bold">f</text>
<text x="361.44" y="2145" font-size="25.15" stroke="#000" stroke-width="0.28">CD19-CD28</text>
<text x="1354.46" y="2151" font-size="24.71" stroke="#000" stroke-width="0.27">CD19-4-1BB</text>
<text font-size="26.6" textLength="121.75" lengthAdjust="spacingAndGlyphs" transform="translate(87.9 2344.75) rotate(-90)" stroke="#000" stroke-width="0.3">+CAR-Treg</text>
<text font-size="26.6" textLength="121.95" lengthAdjust="spacingAndGlyphs" transform="translate(87.9 2560.65) rotate(-90)" stroke="#000" stroke-width="0.3">+CAR-CD4</text>
<g id="he1">
<rect x="151.5" y="2180.43" width="176" height="174.82" fill="#fff"/>
<clipPath id="ce1"><rect x="151.5" y="2180.43" width="176" height="174.82"/></clipPath>
<clipPath id="re1"><path d="M191.75 2355.05L197.37 2352.43L202.36 2350.31L207.35 2348.44L212.34 2349.31L216.08 2349.94L219.83 2349.06L226.07 2349.44L232.31 2349.69L234.8 2344.7L237.92 2338.46L241.04 2336.34L244.78 2336.34L247.28 2329.72L249.15 2317.24L250.77 2312.25L252.52 2315.37L254.77 2319.37L256.64 2317.24L259.13 2312.25L261.63 2307.89L263.5 2307.26L265.37 2309.76L267.24 2314.75L269.12 2316.25L271.61 2316.25L274.11 2314.75L275.98 2307.26L277.48 2289.79L278.72 2272.32L279.97 2259.84L280.97 2256.72L282.47 2254.85L283.72 2247.37L284.96 2237.38L286.59 2231.14L288.46 2229.9L290.95 2239.88L293.45 2269.83L295.94 2307.26L297.82 2332.22L300.31 2347.19L303.43 2352.81L307.18 2354.68L310.92 2355.05Z"/></clipPath>
<g clip-path="url(#ce1)" stroke-linejoin="round">
<path d="M191.75 2355.05L197.37 2352.43L202.36 2350.31L207.35 2348.44L212.34 2349.31L216.08 2349.94L219.83 2349.06L226.07 2349.44L232.31 2349.69L234.8 2344.7L237.92 2338.46L241.04 2336.34L244.78 2336.34L247.28 2329.72L249.15 2317.24L250.77 2312.25L252.52 2315.37L254.77 2319.37L256.64 2317.24L259.13 2312.25L261.63 2307.89L263.5 2307.26L265.37 2309.76L267.24 2314.75L269.12 2316.25L271.61 2316.25L274.11 2314.75L275.98 2307.26L277.48 2289.79L278.72 2272.32L279.97 2259.84L280.97 2256.72L282.47 2254.85L283.72 2247.37L284.96 2237.38L286.59 2231.14L288.46 2229.9L290.95 2239.88L293.45 2269.83L295.94 2307.26L297.82 2332.22L300.31 2347.19L303.43 2352.81L307.18 2354.68L310.92 2355.05Z" fill="#f9b5a3"/>
<path d="M191.75 2355.05L197.37 2353.18L207.35 2353.43L219.83 2353.68L232.31 2353.18L244.78 2352.81L251.02 2351.56L257.26 2351.56L263.5 2350.31L269.74 2347.82L272.86 2343.45L275.36 2334.71L277.23 2319.74L279.1 2294.78L280.97 2269.83L282.84 2251.11L284.71 2234.89L286.59 2219.91L287.83 2209.93L288.71 2206.44L289.71 2211.18L290.95 2223.66L292.82 2251.11L294.7 2282.31L296.57 2313.5L298.44 2335.96L300.94 2348.44L304.06 2353.18L309.67 2354.68L312.17 2355.05Z" fill="#bbdff4"/>
<path d="M191.75 2355.05L197.37 2353.18L207.35 2353.43L219.83 2353.68L232.31 2353.18L244.78 2352.81L251.02 2351.56L257.26 2351.56L263.5 2350.31L269.74 2347.82L272.86 2343.45L275.36 2334.71L277.23 2319.74L279.1 2294.78L280.97 2269.83L282.84 2251.11L284.71 2234.89L286.59 2219.91L287.83 2209.93L288.71 2206.44L289.71 2211.18L290.95 2223.66L292.82 2251.11L294.7 2282.31L296.57 2313.5L298.44 2335.96L300.94 2348.44L304.06 2353.18L309.67 2354.68L312.17 2355.05Z" fill="#b9b3b6" clip-path="url(#re1)"/>
<path d="M191.75 2355.05L197.37 2352.43L202.36 2350.31L207.35 2348.44L212.34 2349.31L216.08 2349.94L219.83 2349.06L226.07 2349.44L232.31 2349.69L234.8 2344.7L237.92 2338.46L241.04 2336.34L244.78 2336.34L247.28 2329.72L249.15 2317.24L250.77 2312.25L252.52 2315.37L254.77 2319.37L256.64 2317.24L259.13 2312.25L261.63 2307.89L263.5 2307.26L265.37 2309.76L267.24 2314.75L269.12 2316.25L271.61 2316.25L274.11 2314.75L275.98 2307.26L277.48 2289.79L278.72 2272.32L279.97 2259.84L280.97 2256.72L282.47 2254.85L283.72 2247.37L284.96 2237.38L286.59 2231.14L288.46 2229.9L290.95 2239.88L293.45 2269.83L295.94 2307.26L297.82 2332.22L300.31 2347.19L303.43 2352.81L307.18 2354.68L310.92 2355.05Z" fill="none" stroke="#cf5349" stroke-width="1.15"/>
<path d="M191.75 2355.05L197.37 2353.18L207.35 2353.43L219.83 2353.68L232.31 2353.18L244.78 2352.81L251.02 2351.56L257.26 2351.56L263.5 2350.31L269.74 2347.82L272.86 2343.45L275.36 2334.71L277.23 2319.74L279.1 2294.78L280.97 2269.83L282.84 2251.11L284.71 2234.89L286.59 2219.91L287.83 2209.93L288.71 2206.44L289.71 2211.18L290.95 2223.66L292.82 2251.11L294.7 2282.31L296.57 2313.5L298.44 2335.96L300.94 2348.44L304.06 2353.18L309.67 2354.68L312.17 2355.05Z" fill="none" stroke="#7dbcdf" stroke-width="0.8" stroke-opacity="0.8"/>
</g>
<path d="M151.5 2180.43H327.5V2355.25" stroke="#8f8f8f" stroke-width="1.2" fill="none"/>
<path d="M151.5 2180.43V2355.25H327.5" stroke="#0a0a0a" stroke-width="1.25" fill="none"/>
<path d="M311.17 2355.25H326.9" stroke="#7dbcdf" stroke-width="1.1" stroke-opacity="0.85" fill="none"/>
<path d="M162.34 2355.25v5.6M191.63 2355.25v5.6M220.32 2355.25v5.6M268.29 2355.25v5.6M309.72 2355.25v5.6" stroke="#0a0a0a" stroke-width="1.4" fill="none"/>
<path d="M234.76 2355.25v2.8M243.21 2355.25v2.8M249.2 2355.25v2.8M253.85 2355.25v2.8M257.65 2355.25v2.8M260.86 2355.25v2.8M263.64 2355.25v2.8M266.1 2355.25v2.8M280.77 2355.25v2.8M288.06 2355.25v2.8M293.24 2355.25v2.8M297.25 2355.25v2.8M300.53 2355.25v2.8M303.31 2355.25v2.8M305.71 2355.25v2.8M307.83 2355.25v2.8M321.32 2355.25v2.8M197.93 2355.25v2.8M185.2 2355.25v2.8M203 2355.25v2.8M180.02 2355.25v2.8M206.87 2355.25v2.8M176.07 2355.25v2.8M209.9 2355.25v2.8M172.97 2355.25v2.8M212.36 2355.25v2.8M170.47 2355.25v2.8M214.41 2355.25v2.8M168.37 2355.25v2.8M216.18 2355.25v2.8M166.57 2355.25v2.8M217.72 2355.25v2.8M164.99 2355.25v2.8M219.09 2355.25v2.8M163.6 2355.25v2.8" stroke="#0a0a0a" stroke-width="0.9" fill="none"/>
<path d="M187.76 2355.25v4.2M189.87 2355.25v4.2M191.98 2355.25v4.2M193.92 2355.25v4.2" stroke="#0a0a0a" stroke-width="1.9" fill="none"/>
<text x="166.68" y="2370.25" font-size="6.3" font-weight="bold" text-anchor="middle" fill="#1a1a1a">-10<tspan dx="1.7" dy="-3.3" font-size="5.5">3</tspan></text>
<text x="194.27" y="2370.25" font-size="6.3" font-weight="bold" text-anchor="middle" fill="#1a1a1a">0</text>
<text x="225" y="2370.25" font-size="6.3" font-weight="bold" text-anchor="middle" fill="#1a1a1a">10<tspan dx="1.7" dy="-3.3" font-size="5.5">3</tspan></text>
<text x="272.98" y="2370.25" font-size="6.3" font-weight="bold" text-anchor="middle" fill="#1a1a1a">10<tspan dx="1.7" dy="-3.3" font-size="5.5">4</tspan></text>
<text x="314.41" y="2370.25" font-size="6.3" font-weight="bold" text-anchor="middle" fill="#1a1a1a">10<tspan dx="1.7" dy="-3.3" font-size="5.5">5</tspan></text>
<path d="M151.5 2355.25h-4.8M151.5 2321.91h-4.8M151.5 2288.57h-4.8M151.5 2255.23h-4.8M151.5 2221.89h-4.8M151.5 2188.54h-4.8" stroke="#0a0a0a" stroke-width="1.3" fill="none"/>
<path d="M151.5 2346.92h-2.4M151.5 2338.58h-2.4M151.5 2330.25h-2.4M151.5 2313.58h-2.4M151.5 2305.24h-2.4M151.5 2296.91h-2.4M151.5 2280.23h-2.4M151.5 2271.9h-2.4M151.5 2263.56h-2.4M151.5 2246.89h-2.4M151.5 2238.56h-2.4M151.5 2230.22h-2.4M151.5 2213.55h-2.4M151.5 2205.21h-2.4M151.5 2196.88h-2.4" stroke="#0a0a0a" stroke-width="1" fill="none"/>
<text x="142" y="2355.45" font-size="5.6" text-anchor="end" font-weight="bold" fill="#1a1a1a">0</text>
<text x="142" y="2323.91" font-size="5.6" text-anchor="end" font-weight="bold" fill="#1a1a1a">20</text>
<text x="142" y="2290.57" font-size="5.6" text-anchor="end" font-weight="bold" fill="#1a1a1a">40</text>
<text x="142" y="2257.23" font-size="5.6" text-anchor="end" font-weight="bold" fill="#1a1a1a">60</text>
<text x="142" y="2223.89" font-size="5.6" text-anchor="end" font-weight="bold" fill="#1a1a1a">80</text>
<text x="142" y="2190.54" font-size="5.6" text-anchor="end" font-weight="bold" fill="#1a1a1a">100</text>
<path d="M151.5 2302.5H269.5M152 2306.2v-7.4M269.5 2306.2v-7.4" stroke="#0a0a0a" stroke-width="1.2" fill="none"/>
<text x="201.41" y="2292.9" font-size="18.39" stroke="#000" stroke-width="0.28">36.8</text>
</g>
<g id="he2">
<rect x="344.5" y="2180.43" width="176" height="174.82" fill="#fff"/>
<clipPath id="ce2"><rect x="344.5" y="2180.43" width="176" height="174.82"/></clipPath>
<clipPath id="re2"><path d="M384.75 2355.05L389.12 2350.94L394.11 2346.57L397.23 2344.7L400.35 2346.57L404.72 2350.31L409.08 2350.31L412.2 2349.44L415.32 2350.69L419.69 2351.56L422.81 2349.69L425.93 2344.7L428.42 2338.46L430.92 2334.46L434.04 2333.72L437.16 2332.22L440.28 2327.23L442.77 2318.49L444.65 2308.51L446.27 2298.53L448.39 2294.16L450.26 2297.28L452.13 2306.01L454.01 2311.01L455.88 2307.26L457.75 2301.02L460.24 2299.53L462.12 2300.4L463.99 2306.01L465.86 2311.63L467.73 2304.77L468.98 2288.54L470.85 2269.83L473.35 2254.85L475.22 2242.37L476.72 2232.39L478.34 2229.9L479.59 2232.39L481.46 2244.87L483.95 2259.84L485.82 2276.07L487.7 2301.02L490.19 2325.98L492.69 2344.7L495.81 2352.81L500.18 2355.05Z"/></clipPath>
<g clip-path="url(#ce2)" stroke-linejoin="round">
<path d="M384.75 2355.05L389.12 2350.94L394.11 2346.57L397.23 2344.7L400.35 2346.57L404.72 2350.31L409.08 2350.31L412.2 2349.44L415.32 2350.69L419.69 2351.56L422.81 2349.69L425.93 2344.7L428.42 2338.46L430.92 2334.46L434.04 2333.72L437.16 2332.22L440.28 2327.23L442.77 2318.49L444.65 2308.51L446.27 2298.53L448.39 2294.16L450.26 2297.28L452.13 2306.01L454.01 2311.01L455.88 2307.26L457.75 2301.02L460.24 2299.53L462.12 2300.4L463.99 2306.01L465.86 2311.63L467.73 2304.77L468.98 2288.54L470.85 2269.83L473.35 2254.85L475.22 2242.37L476.72 2232.39L478.34 2229.9L479.59 2232.39L481.46 2244.87L483.95 2259.84L485.82 2276.07L487.7 2301.02L490.19 2325.98L492.69 2344.7L495.81 2352.81L500.18 2355.05Z" fill="#f9b5a3"/>
<path d="M384.75 2355.05L394.11 2353.18L406.59 2352.18L411.58 2349.44L415.32 2351.56L425.31 2353.18L437.78 2353.18L450.26 2352.43L456.5 2352.18L462.74 2349.69L465.86 2344.7L468.36 2334.71L470.48 2319.74L472.47 2294.78L474.59 2269.83L476.47 2251.11L478.34 2237.38L480.21 2227.4L481.71 2222.41L482.95 2221.16L484.2 2224.9L485.45 2239.88L486.7 2263.59L487.95 2288.54L489.57 2313.5L491.44 2332.22L493.94 2347.19L497.06 2353.43L501.42 2355.05Z" fill="#bbdff4"/>
<path d="M384.75 2355.05L394.11 2353.18L406.59 2352.18L411.58 2349.44L415.32 2351.56L425.31 2353.18L437.78 2353.18L450.26 2352.43L456.5 2352.18L462.74 2349.69L465.86 2344.7L468.36 2334.71L470.48 2319.74L472.47 2294.78L474.59 2269.83L476.47 2251.11L478.34 2237.38L480.21 2227.4L481.71 2222.41L482.95 2221.16L484.2 2224.9L485.45 2239.88L486.7 2263.59L487.95 2288.54L489.57 2313.5L491.44 2332.22L493.94 2347.19L497.06 2353.43L501.42 2355.05Z" fill="#b9b3b6" clip-path="url(#re2)"/>
<path d="M384.75 2355.05L389.12 2350.94L394.11 2346.57L397.23 2344.7L400.35 2346.57L404.72 2350.31L409.08 2350.31L412.2 2349.44L415.32 2350.69L419.69 2351.56L422.81 2349.69L425.93 2344.7L428.42 2338.46L430.92 2334.46L434.04 2333.72L437.16 2332.22L440.28 2327.23L442.77 2318.49L444.65 2308.51L446.27 2298.53L448.39 2294.16L450.26 2297.28L452.13 2306.01L454.01 2311.01L455.88 2307.26L457.75 2301.02L460.24 2299.53L462.12 2300.4L463.99 2306.01L465.86 2311.63L467.73 2304.77L468.98 2288.54L470.85 2269.83L473.35 2254.85L475.22 2242.37L476.72 2232.39L478.34 2229.9L479.59 2232.39L481.46 2244.87L483.95 2259.84L485.82 2276.07L487.7 2301.02L490.19 2325.98L492.69 2344.7L495.81 2352.81L500.18 2355.05Z" fill="none" stroke="#cf5349" stroke-width="1.15"/>
<path d="M384.75 2355.05L394.11 2353.18L406.59 2352.18L411.58 2349.44L415.32 2351.56L425.31 2353.18L437.78 2353.18L450.26 2352.43L456.5 2352.18L462.74 2349.69L465.86 2344.7L468.36 2334.71L470.48 2319.74L472.47 2294.78L474.59 2269.83L476.47 2251.11L478.34 2237.38L480.21 2227.4L481.71 2222.41L482.95 2221.16L484.2 2224.9L485.45 2239.88L486.7 2263.59L487.95 2288.54L489.57 2313.5L491.44 2332.22L493.94 2347.19L497.06 2353.43L501.42 2355.05Z" fill="none" stroke="#7dbcdf" stroke-width="0.8" stroke-opacity="0.8"/>
</g>
<path d="M344.5 2180.43H520.5V2355.25" stroke="#8f8f8f" stroke-width="1.2" fill="none"/>
<path d="M344.5 2180.43V2355.25H520.5" stroke="#0a0a0a" stroke-width="1.1" fill="none"/>
<path d="M500.42 2355.25H519.9" stroke="#7dbcdf" stroke-width="1.1" stroke-opacity="0.85" fill="none"/>
<path d="M355.34 2355.25v5.6M384.63 2355.25v5.6M413.32 2355.25v5.6M461.29 2355.25v5.6M502.72 2355.25v5.6" stroke="#0a0a0a" stroke-width="1.4" fill="none"/>
<path d="M427.76 2355.25v2.8M436.21 2355.25v2.8M442.2 2355.25v2.8M446.85 2355.25v2.8M450.65 2355.25v2.8M453.86 2355.25v2.8M456.64 2355.25v2.8M459.1 2355.25v2.8M473.77 2355.25v2.8M481.06 2355.25v2.8M486.24 2355.25v2.8M490.25 2355.25v2.8M493.53 2355.25v2.8M496.31 2355.25v2.8M498.71 2355.25v2.8M500.83 2355.25v2.8M514.32 2355.25v2.8M390.93 2355.25v2.8M378.2 2355.25v2.8M396 2355.25v2.8M373.02 2355.25v2.8M399.87 2355.25v2.8M369.07 2355.25v2.8M402.9 2355.25v2.8M365.97 2355.25v2.8M405.36 2355.25v2.8M363.47 2355.25v2.8M407.41 2355.25v2.8M361.37 2355.25v2.8M409.18 2355.25v2.8M359.57 2355.25v2.8M410.72 2355.25v2.8M357.99 2355.25v2.8M412.09 2355.25v2.8M356.6 2355.25v2.8" stroke="#0a0a0a" stroke-width="0.9" fill="none"/>
<path d="M380.76 2355.25v4.2M382.87 2355.25v4.2M384.98 2355.25v4.2M386.92 2355.25v4.2" stroke="#0a0a0a" stroke-width="1.9" fill="none"/>
<text x="359.68" y="2370.25" font-size="6.3" font-weight="bold" text-anchor="middle" fill="#1a1a1a">-10<tspan dx="1.7" dy="-3.3" font-size="5.5">3</tspan></text>
<text x="387.27" y="2370.25" font-size="6.3" font-weight="bold" text-anchor="middle" fill="#1a1a1a">0</text>
<text x="418" y="2370.25" font-size="6.3" font-weight="bold" text-anchor="middle" fill="#1a1a1a">10<tspan dx="1.7" dy="-3.3" font-size="5.5">3</tspan></text>
<text x="465.98" y="2370.25" font-size="6.3" font-weight="bold" text-anchor="middle" fill="#1a1a1a">10<tspan dx="1.7" dy="-3.3" font-size="5.5">4</tspan></text>
<text x="507.41" y="2370.25" font-size="6.3" font-weight="bold" text-anchor="middle" fill="#1a1a1a">10<tspan dx="1.7" dy="-3.3" font-size="5.5">5</tspan></text>
<path d="M344.5 2302.5H462.5M345 2306.2v-7.4M462.5 2306.2v-7.4" stroke="#0a0a0a" stroke-width="1.2" fill="none"/>
<text x="394.69" y="2292.9" font-size="18.29" stroke="#000" stroke-width="0.28">41.1</text>
</g>
<g id="he3">
<rect x="537.5" y="2180.43" width="176" height="174.82" fill="#fff"/>
<clipPath id="ce3"><rect x="537.5" y="2180.43" width="176" height="174.82"/></clipPath>
<clipPath id="re3"><path d="M577.75 2355.05L580.87 2352.18L584.61 2350.31L589.6 2349.44L595.84 2347.19L600.84 2350.31L605.83 2353.43L609.57 2352.18L613.31 2347.82L616.43 2346.94L619.55 2349.69L622.05 2350.31L624.54 2344.7L626.42 2338.46L628.29 2335.71L630.78 2335.34L632.66 2335.96L635.77 2332.22L639.52 2327.85L642.64 2322.24L645.13 2317.24L646.76 2316L648.88 2319.74L652 2325.98L655.12 2322.24L658.86 2317.24L660.73 2315.37L662.6 2314.75L664.23 2307.26L665.72 2288.54L666.97 2269.83L667.97 2251.11L668.84 2237.38L670.09 2231.14L671.96 2231.39L673.83 2233.64L675.71 2239.88L677.58 2247.37L678.82 2259.84L680.07 2282.31L681.94 2313.5L683.82 2335.96L686.31 2348.44L689.43 2353.43L693.18 2355.05Z"/></clipPath>
<g clip-path="url(#ce3)" stroke-linejoin="round">
<path d="M577.75 2355.05L580.87 2352.18L584.61 2350.31L589.6 2349.44L595.84 2347.19L600.84 2350.31L605.83 2353.43L609.57 2352.18L613.31 2347.82L616.43 2346.94L619.55 2349.69L622.05 2350.31L624.54 2344.7L626.42 2338.46L628.29 2335.71L630.78 2335.34L632.66 2335.96L635.77 2332.22L639.52 2327.85L642.64 2322.24L645.13 2317.24L646.76 2316L648.88 2319.74L652 2325.98L655.12 2322.24L658.86 2317.24L660.73 2315.37L662.6 2314.75L664.23 2307.26L665.72 2288.54L666.97 2269.83L667.97 2251.11L668.84 2237.38L670.09 2231.14L671.96 2231.39L673.83 2233.64L675.71 2239.88L677.58 2247.37L678.82 2259.84L680.07 2282.31L681.94 2313.5L683.82 2335.96L686.31 2348.44L689.43 2353.43L693.18 2355.05Z" fill="#f9b5a3"/>
<path d="M577.75 2355.05L587.11 2353.43L599.59 2353.18L612.07 2353.43L620.8 2350.94L624.54 2349.69L628.29 2351.56L637.02 2352.81L645.76 2351.56L653.24 2348.44L657.61 2344.7L660.73 2335.96L662.98 2319.74L664.72 2301.02L666.35 2276.07L668.22 2251.11L670.09 2232.39L671.96 2217.42L673.83 2206.19L675.33 2201.2L676.58 2207.44L677.83 2222.41L679.07 2244.87L680.32 2269.83L681.94 2301.02L683.82 2329.72L686.31 2347.19L689.43 2353.18L694.42 2355.05Z" fill="#bbdff4"/>
<path d="M577.75 2355.05L587.11 2353.43L599.59 2353.18L612.07 2353.43L620.8 2350.94L624.54 2349.69L628.29 2351.56L637.02 2352.81L645.76 2351.56L653.24 2348.44L657.61 2344.7L660.73 2335.96L662.98 2319.74L664.72 2301.02L666.35 2276.07L668.22 2251.11L670.09 2232.39L671.96 2217.42L673.83 2206.19L675.33 2201.2L676.58 2207.44L677.83 2222.41L679.07 2244.87L680.32 2269.83L681.94 2301.02L683.82 2329.72L686.31 2347.19L689.43 2353.18L694.42 2355.05Z" fill="#b9b3b6" clip-path="url(#re3)"/>
<path d="M577.75 2355.05L580.87 2352.18L584.61 2350.31L589.6 2349.44L595.84 2347.19L600.84 2350.31L605.83 2353.43L609.57 2352.18L613.31 2347.82L616.43 2346.94L619.55 2349.69L622.05 2350.31L624.54 2344.7L626.42 2338.46L628.29 2335.71L630.78 2335.34L632.66 2335.96L635.77 2332.22L639.52 2327.85L642.64 2322.24L645.13 2317.24L646.76 2316L648.88 2319.74L652 2325.98L655.12 2322.24L658.86 2317.24L660.73 2315.37L662.6 2314.75L664.23 2307.26L665.72 2288.54L666.97 2269.83L667.97 2251.11L668.84 2237.38L670.09 2231.14L671.96 2231.39L673.83 2233.64L675.71 2239.88L677.58 2247.37L678.82 2259.84L680.07 2282.31L681.94 2313.5L683.82 2335.96L686.31 2348.44L689.43 2353.43L693.18 2355.05Z" fill="none" stroke="#cf5349" stroke-width="1.15"/>
<path d="M577.75 2355.05L587.11 2353.43L599.59 2353.18L612.07 2353.43L620.8 2350.94L624.54 2349.69L628.29 2351.56L637.02 2352.81L645.76 2351.56L653.24 2348.44L657.61 2344.7L660.73 2335.96L662.98 2319.74L664.72 2301.02L666.35 2276.07L668.22 2251.11L670.09 2232.39L671.96 2217.42L673.83 2206.19L675.33 2201.2L676.58 2207.44L677.83 2222.41L679.07 2244.87L680.32 2269.83L681.94 2301.02L683.82 2329.72L686.31 2347.19L689.43 2353.18L694.42 2355.05Z" fill="none" stroke="#7dbcdf" stroke-width="0.8" stroke-opacity="0.8"/>
</g>
<path d="M537.5 2180.43H713.5V2355.25" stroke="#8f8f8f" stroke-width="1.2" fill="none"/>
<path d="M537.5 2180.43V2355.25H713.5" stroke="#0a0a0a" stroke-width="1.1" fill="none"/>
<path d="M693.42 2355.25H712.9" stroke="#7dbcdf" stroke-width="1.1" stroke-opacity="0.85" fill="none"/>
<path d="M548.34 2355.25v5.6M577.63 2355.25v5.6M606.32 2355.25v5.6M654.29 2355.25v5.6M695.72 2355.25v5.6" stroke="#0a0a0a" stroke-width="1.4" fill="none"/>
<path d="M620.76 2355.25v2.8M629.21 2355.25v2.8M635.2 2355.25v2.8M639.85 2355.25v2.8M643.65 2355.25v2.8M646.86 2355.25v2.8M649.64 2355.25v2.8M652.1 2355.25v2.8M666.77 2355.25v2.8M674.06 2355.25v2.8M679.24 2355.25v2.8M683.25 2355.25v2.8M686.53 2355.25v2.8M689.31 2355.25v2.8M691.71 2355.25v2.8M693.83 2355.25v2.8M707.32 2355.25v2.8M583.93 2355.25v2.8M571.2 2355.25v2.8M589 2355.25v2.8M566.02 2355.25v2.8M592.87 2355.25v2.8M562.07 2355.25v2.8M595.9 2355.25v2.8M558.97 2355.25v2.8M598.36 2355.25v2.8M556.47 2355.25v2.8M600.41 2355.25v2.8M554.37 2355.25v2.8M602.18 2355.25v2.8M552.57 2355.25v2.8M603.72 2355.25v2.8M550.99 2355.25v2.8M605.09 2355.25v2.8M549.6 2355.25v2.8" stroke="#0a0a0a" stroke-width="0.9" fill="none"/>
<path d="M573.76 2355.25v4.2M575.87 2355.25v4.2M577.98 2355.25v4.2M579.92 2355.25v4.2" stroke="#0a0a0a" stroke-width="1.9" fill="none"/>
<text x="552.68" y="2370.25" font-size="6.3" font-weight="bold" text-anchor="middle" fill="#1a1a1a">-10<tspan dx="1.7" dy="-3.3" font-size="5.5">3</tspan></text>
<text x="580.27" y="2370.25" font-size="6.3" font-weight="bold" text-anchor="middle" fill="#1a1a1a">0</text>
<text x="611" y="2370.25" font-size="6.3" font-weight="bold" text-anchor="middle" fill="#1a1a1a">10<tspan dx="1.7" dy="-3.3" font-size="5.5">3</tspan></text>
<text x="658.98" y="2370.25" font-size="6.3" font-weight="bold" text-anchor="middle" fill="#1a1a1a">10<tspan dx="1.7" dy="-3.3" font-size="5.5">4</tspan></text>
<text x="700.41" y="2370.25" font-size="6.3" font-weight="bold" text-anchor="middle" fill="#1a1a1a">10<tspan dx="1.7" dy="-3.3" font-size="5.5">5</tspan></text>
<path d="M537.5 2302.5H655.5M538 2306.2v-7.4M655.5 2306.2v-7.4" stroke="#0a0a0a" stroke-width="1.2" fill="none"/>
<text x="587.41" y="2292.9" font-size="18.39" stroke="#000" stroke-width="0.28">33.3</text>
</g>
<g id="he4">
<rect x="151.5" y="2411.06" width="176" height="175.07" fill="#fff"/>
<clipPath id="ce4"><rect x="151.5" y="2411.06" width="176" height="175.07"/></clipPath>
<clipPath id="re4"><path d="M189.88 2585.93L193 2580.94L195.49 2572.2L197.99 2562.22L200.49 2557.48L202.36 2555.98L206.1 2557.48L209.84 2559.72L212.34 2560.97L214.84 2565.96L216.71 2571.58L219.2 2574.07L222.32 2574.07L225.44 2573.2L227.94 2574.7L231.06 2576.94L233.55 2574.7L236.67 2569.71L239.79 2563.47L242.29 2560.35L244.16 2558.47L246.03 2550.99L248.53 2541.01L250.4 2531.02L252.02 2518.54L253.52 2502.32L254.77 2484.85L255.76 2476.12L257.01 2474.25L258.51 2478.61L260.01 2482.36L261.63 2478.61L263.5 2473.62L265.37 2472.12L267.24 2473.62L268.49 2476.12L269.99 2469.88L271.61 2466.14L273.23 2469.88L274.73 2482.36L276.23 2496.08L277.85 2501.7L279.72 2498.58L281.59 2496.33L283.47 2496.08L284.96 2489.84L286.59 2485.48L288.21 2487.35L289.71 2487.35L291.58 2482.98L293.45 2486.1L295.94 2492.34L297.82 2506.07L299.69 2524.78L301.56 2543.5L303.43 2562.22L305.93 2577.19L309.67 2583.43L314.66 2585.3L319.65 2585.93Z"/></clipPath>
<g clip-path="url(#ce4)" stroke-linejoin="round">
<path d="M189.88 2585.93L193 2580.94L195.49 2572.2L197.99 2562.22L200.49 2557.48L202.36 2555.98L206.1 2557.48L209.84 2559.72L212.34 2560.97L214.84 2565.96L216.71 2571.58L219.2 2574.07L222.32 2574.07L225.44 2573.2L227.94 2574.7L231.06 2576.94L233.55 2574.7L236.67 2569.71L239.79 2563.47L242.29 2560.35L244.16 2558.47L246.03 2550.99L248.53 2541.01L250.4 2531.02L252.02 2518.54L253.52 2502.32L254.77 2484.85L255.76 2476.12L257.01 2474.25L258.51 2478.61L260.01 2482.36L261.63 2478.61L263.5 2473.62L265.37 2472.12L267.24 2473.62L268.49 2476.12L269.99 2469.88L271.61 2466.14L273.23 2469.88L274.73 2482.36L276.23 2496.08L277.85 2501.7L279.72 2498.58L281.59 2496.33L283.47 2496.08L284.96 2489.84L286.59 2485.48L288.21 2487.35L289.71 2487.35L291.58 2482.98L293.45 2486.1L295.94 2492.34L297.82 2506.07L299.69 2524.78L301.56 2543.5L303.43 2562.22L305.93 2577.19L309.67 2583.43L314.66 2585.3L319.65 2585.93Z" fill="#f9b5a3"/>
<path d="M191.75 2585.93L196.12 2580.94L199.86 2576.57L203.6 2575.69L207.35 2578.44L213.59 2580.69L219.83 2580.94L223.57 2580.06L229.81 2581.56L238.54 2580.94L251.02 2580.69L263.5 2580.94L269.74 2582.43L274.73 2580.94L278.47 2574.7L281.59 2562.22L284.09 2543.5L285.96 2524.78L287.83 2506.07L289.71 2487.35L291.2 2469.88L292.82 2452.41L294.07 2442.43L295.32 2437.44L296.57 2441.18L297.82 2452.41L299.06 2469.88L300.31 2493.59L301.56 2518.54L302.81 2543.5L304.43 2564.71L306.55 2578.44L309.67 2583.43L315.91 2585.3L319.65 2585.93Z" fill="#bbdff4"/>
<path d="M191.75 2585.93L196.12 2580.94L199.86 2576.57L203.6 2575.69L207.35 2578.44L213.59 2580.69L219.83 2580.94L223.57 2580.06L229.81 2581.56L238.54 2580.94L251.02 2580.69L263.5 2580.94L269.74 2582.43L274.73 2580.94L278.47 2574.7L281.59 2562.22L284.09 2543.5L285.96 2524.78L287.83 2506.07L289.71 2487.35L291.2 2469.88L292.82 2452.41L294.07 2442.43L295.32 2437.44L296.57 2441.18L297.82 2452.41L299.06 2469.88L300.31 2493.59L301.56 2518.54L302.81 2543.5L304.43 2564.71L306.55 2578.44L309.67 2583.43L315.91 2585.3L319.65 2585.93Z" fill="#b9b3b6" clip-path="url(#re4)"/>
<path d="M189.88 2585.93L193 2580.94L195.49 2572.2L197.99 2562.22L200.49 2557.48L202.36 2555.98L206.1 2557.48L209.84 2559.72L212.34 2560.97L214.84 2565.96L216.71 2571.58L219.2 2574.07L222.32 2574.07L225.44 2573.2L227.94 2574.7L231.06 2576.94L233.55 2574.7L236.67 2569.71L239.79 2563.47L242.29 2560.35L244.16 2558.47L246.03 2550.99L248.53 2541.01L250.4 2531.02L252.02 2518.54L253.52 2502.32L254.77 2484.85L255.76 2476.12L257.01 2474.25L258.51 2478.61L260.01 2482.36L261.63 2478.61L263.5 2473.62L265.37 2472.12L267.24 2473.62L268.49 2476.12L269.99 2469.88L271.61 2466.14L273.23 2469.88L274.73 2482.36L276.23 2496.08L277.85 2501.7L279.72 2498.58L281.59 2496.33L283.47 2496.08L284.96 2489.84L286.59 2485.48L288.21 2487.35L289.71 2487.35L291.58 2482.98L293.45 2486.1L295.94 2492.34L297.82 2506.07L299.69 2524.78L301.56 2543.5L303.43 2562.22L305.93 2577.19L309.67 2583.43L314.66 2585.3L319.65 2585.93Z" fill="none" stroke="#cf5349" stroke-width="1.15"/>
<path d="M191.75 2585.93L196.12 2580.94L199.86 2576.57L203.6 2575.69L207.35 2578.44L213.59 2580.69L219.83 2580.94L223.57 2580.06L229.81 2581.56L238.54 2580.94L251.02 2580.69L263.5 2580.94L269.74 2582.43L274.73 2580.94L278.47 2574.7L281.59 2562.22L284.09 2543.5L285.96 2524.78L287.83 2506.07L289.71 2487.35L291.2 2469.88L292.82 2452.41L294.07 2442.43L295.32 2437.44L296.57 2441.18L297.82 2452.41L299.06 2469.88L300.31 2493.59L301.56 2518.54L302.81 2543.5L304.43 2564.71L306.55 2578.44L309.67 2583.43L315.91 2585.3L319.65 2585.93Z" fill="none" stroke="#7dbcdf" stroke-width="0.8" stroke-opacity="0.8"/>
</g>
<path d="M151.5 2411.06H327.5V2586.13" stroke="#8f8f8f" stroke-width="1.2" fill="none"/>
<path d="M151.5 2411.06V2586.13H327.5" stroke="#0a0a0a" stroke-width="1.25" fill="none"/>
<path d="M318.65 2586.13H326.9" stroke="#7dbcdf" stroke-width="1.1" stroke-opacity="0.85" fill="none"/>
<path d="M162.34 2586.13v5.6M191.63 2586.13v5.6M220.32 2586.13v5.6M268.29 2586.13v5.6M309.72 2586.13v5.6" stroke="#0a0a0a" stroke-width="1.4" fill="none"/>
<path d="M234.76 2586.13v2.8M243.21 2586.13v2.8M249.2 2586.13v2.8M253.85 2586.13v2.8M257.65 2586.13v2.8M260.86 2586.13v2.8M263.64 2586.13v2.8M266.1 2586.13v2.8M280.77 2586.13v2.8M288.06 2586.13v2.8M293.24 2586.13v2.8M297.25 2586.13v2.8M300.53 2586.13v2.8M303.31 2586.13v2.8M305.71 2586.13v2.8M307.83 2586.13v2.8M321.32 2586.13v2.8M197.93 2586.13v2.8M185.2 2586.13v2.8M203 2586.13v2.8M180.02 2586.13v2.8M206.87 2586.13v2.8M176.07 2586.13v2.8M209.9 2586.13v2.8M172.97 2586.13v2.8M212.36 2586.13v2.8M170.47 2586.13v2.8M214.41 2586.13v2.8M168.37 2586.13v2.8M216.18 2586.13v2.8M166.57 2586.13v2.8M217.72 2586.13v2.8M164.99 2586.13v2.8M219.09 2586.13v2.8M163.6 2586.13v2.8" stroke="#0a0a0a" stroke-width="0.9" fill="none"/>
<path d="M187.76 2586.13v4.2M189.87 2586.13v4.2M191.98 2586.13v4.2M193.92 2586.13v4.2" stroke="#0a0a0a" stroke-width="1.9" fill="none"/>
<text x="166.68" y="2601.13" font-size="6.3" font-weight="bold" text-anchor="middle" fill="#1a1a1a">-10<tspan dx="1.7" dy="-3.3" font-size="5.5">3</tspan></text>
<text x="194.27" y="2601.13" font-size="6.3" font-weight="bold" text-anchor="middle" fill="#1a1a1a">0</text>
<text x="225" y="2601.13" font-size="6.3" font-weight="bold" text-anchor="middle" fill="#1a1a1a">10<tspan dx="1.7" dy="-3.3" font-size="5.5">3</tspan></text>
<text x="272.98" y="2601.13" font-size="6.3" font-weight="bold" text-anchor="middle" fill="#1a1a1a">10<tspan dx="1.7" dy="-3.3" font-size="5.5">4</tspan></text>
<text x="314.41" y="2601.13" font-size="6.3" font-weight="bold" text-anchor="middle" fill="#1a1a1a">10<tspan dx="1.7" dy="-3.3" font-size="5.5">5</tspan></text>
<path d="M151.5 2586.13h-4.8M151.5 2552.74h-4.8M151.5 2519.35h-4.8M151.5 2485.96h-4.8M151.5 2452.57h-4.8M151.5 2419.18h-4.8" stroke="#0a0a0a" stroke-width="1.3" fill="none"/>
<path d="M151.5 2577.78h-2.4M151.5 2569.43h-2.4M151.5 2561.09h-2.4M151.5 2544.39h-2.4M151.5 2536.04h-2.4M151.5 2527.7h-2.4M151.5 2511h-2.4M151.5 2502.65h-2.4M151.5 2494.31h-2.4M151.5 2477.61h-2.4M151.5 2469.26h-2.4M151.5 2460.92h-2.4M151.5 2444.22h-2.4M151.5 2435.87h-2.4M151.5 2427.53h-2.4" stroke="#0a0a0a" stroke-width="1" fill="none"/>
<text x="142" y="2586.33" font-size="5.6" text-anchor="end" font-weight="bold" fill="#1a1a1a">0</text>
<text x="142" y="2554.74" font-size="5.6" text-anchor="end" font-weight="bold" fill="#1a1a1a">20</text>
<text x="142" y="2521.35" font-size="5.6" text-anchor="end" font-weight="bold" fill="#1a1a1a">40</text>
<text x="142" y="2487.96" font-size="5.6" text-anchor="end" font-weight="bold" fill="#1a1a1a">60</text>
<text x="142" y="2454.57" font-size="5.6" text-anchor="end" font-weight="bold" fill="#1a1a1a">80</text>
<text x="142" y="2421.18" font-size="5.6" text-anchor="end" font-weight="bold" fill="#1a1a1a">100</text>
<path d="M151.5 2533.5H269.5M152 2537.2v-7.4M269.5 2537.2v-7.4" stroke="#0a0a0a" stroke-width="1.2" fill="none"/>
<text x="201.69" y="2523.3" font-size="18.27" stroke="#000" stroke-width="0.28">48.9</text>
</g>
<g id="he5">
<rect x="344.5" y="2411.06" width="176" height="175.07" fill="#fff"/>
<clipPath id="ce5"><rect x="344.5" y="2411.06" width="176" height="175.07"/></clipPath>
<clipPath id="re5"><path d="M383.5 2585.93L386 2580.94L387.87 2570.95L389.37 2557.23L390.99 2546L392.61 2540.38L394.36 2540.38L395.98 2544.75L398.48 2553.48L400.97 2562.22L403.47 2569.08L405.96 2572.82L409.08 2574.7L412.2 2576.57L414.7 2574.7L417.82 2572.2L420.31 2573.2L422.81 2574.07L425.31 2569.71L427.8 2562.22L430.3 2560.35L432.79 2559.1L434.66 2549.74L436.54 2537.26L438.41 2522.29L440.28 2514.8L442.77 2506.07L445.27 2492.34L447.14 2479.86L448.76 2471.13L450.01 2469.25L451.51 2474.87L452.76 2482.36L453.76 2487.35L455 2477.37L456.25 2471.13L457.5 2477.37L459 2489.84L460.49 2498.58L462.12 2500.82L463.36 2497.33L464.61 2496.08L465.86 2501.07L467.11 2509.81L468.36 2522.29L469.6 2532.27L471.23 2537.26L472.72 2537.89L474.59 2542.25L476.47 2545.37L478.34 2541.01L479.96 2539.13L481.46 2543.5L483.33 2548.49L485.2 2547.24L487.07 2544.75L488.94 2548.49L490.82 2558.47L493.31 2569.71L496.43 2579.69L500.18 2584.68L503.92 2585.93Z"/></clipPath>
<g clip-path="url(#ce5)" stroke-linejoin="round">
<path d="M383.5 2585.93L386 2580.94L387.87 2570.95L389.37 2557.23L390.99 2546L392.61 2540.38L394.36 2540.38L395.98 2544.75L398.48 2553.48L400.97 2562.22L403.47 2569.08L405.96 2572.82L409.08 2574.7L412.2 2576.57L414.7 2574.7L417.82 2572.2L420.31 2573.2L422.81 2574.07L425.31 2569.71L427.8 2562.22L430.3 2560.35L432.79 2559.1L434.66 2549.74L436.54 2537.26L438.41 2522.29L440.28 2514.8L442.77 2506.07L445.27 2492.34L447.14 2479.86L448.76 2471.13L450.01 2469.25L451.51 2474.87L452.76 2482.36L453.76 2487.35L455 2477.37L456.25 2471.13L457.5 2477.37L459 2489.84L460.49 2498.58L462.12 2500.82L463.36 2497.33L464.61 2496.08L465.86 2501.07L467.11 2509.81L468.36 2522.29L469.6 2532.27L471.23 2537.26L472.72 2537.89L474.59 2542.25L476.47 2545.37L478.34 2541.01L479.96 2539.13L481.46 2543.5L483.33 2548.49L485.2 2547.24L487.07 2544.75L488.94 2548.49L490.82 2558.47L493.31 2569.71L496.43 2579.69L500.18 2584.68L503.92 2585.93Z" fill="#f9b5a3"/>
<path d="M384.75 2585.93L389.12 2580.94L392.86 2577.19L396.6 2576.57L402.84 2578.44L410.33 2581.56L417.82 2580.31L425.31 2581.56L432.79 2580.94L444.02 2582.18L456.5 2582.43L465.24 2580.94L470.23 2578.44L473.35 2570.95L475.22 2555.98L477.09 2543.5L478.96 2534.77L480.83 2518.54L482.71 2499.83L484.58 2477.37L486.2 2458.65L487.45 2448.67L488.57 2446.42L489.82 2449.91L491.07 2462.39L492.31 2481.11L493.56 2506.07L494.93 2531.02L496.43 2555.98L498.3 2573.45L500.8 2582.18L505.17 2585.3L508.91 2585.93Z" fill="#bbdff4"/>
<path d="M384.75 2585.93L389.12 2580.94L392.86 2577.19L396.6 2576.57L402.84 2578.44L410.33 2581.56L417.82 2580.31L425.31 2581.56L432.79 2580.94L444.02 2582.18L456.5 2582.43L465.24 2580.94L470.23 2578.44L473.35 2570.95L475.22 2555.98L477.09 2543.5L478.96 2534.77L480.83 2518.54L482.71 2499.83L484.58 2477.37L486.2 2458.65L487.45 2448.67L488.57 2446.42L489.82 2449.91L491.07 2462.39L492.31 2481.11L493.56 2506.07L494.93 2531.02L496.43 2555.98L498.3 2573.45L500.8 2582.18L505.17 2585.3L508.91 2585.93Z" fill="#b9b3b6" clip-path="url(#re5)"/>
<path d="M383.5 2585.93L386 2580.94L387.87 2570.95L389.37 2557.23L390.99 2546L392.61 2540.38L394.36 2540.38L395.98 2544.75L398.48 2553.48L400.97 2562.22L403.47 2569.08L405.96 2572.82L409.08 2574.7L412.2 2576.57L414.7 2574.7L417.82 2572.2L420.31 2573.2L422.81 2574.07L425.31 2569.71L427.8 2562.22L430.3 2560.35L432.79 2559.1L434.66 2549.74L436.54 2537.26L438.41 2522.29L440.28 2514.8L442.77 2506.07L445.27 2492.34L447.14 2479.86L448.76 2471.13L450.01 2469.25L451.51 2474.87L452.76 2482.36L453.76 2487.35L455 2477.37L456.25 2471.13L457.5 2477.37L459 2489.84L460.49 2498.58L462.12 2500.82L463.36 2497.33L464.61 2496.08L465.86 2501.07L467.11 2509.81L468.36 2522.29L469.6 2532.27L471.23 2537.26L472.72 2537.89L474.59 2542.25L476.47 2545.37L478.34 2541.01L479.96 2539.13L481.46 2543.5L483.33 2548.49L485.2 2547.24L487.07 2544.75L488.94 2548.49L490.82 2558.47L493.31 2569.71L496.43 2579.69L500.18 2584.68L503.92 2585.93Z" fill="none" stroke="#cf5349" stroke-width="1.15"/>
<path d="M384.75 2585.93L389.12 2580.94L392.86 2577.19L396.6 2576.57L402.84 2578.44L410.33 2581.56L417.82 2580.31L425.31 2581.56L432.79 2580.94L444.02 2582.18L456.5 2582.43L465.24 2580.94L470.23 2578.44L473.35 2570.95L475.22 2555.98L477.09 2543.5L478.96 2534.77L480.83 2518.54L482.71 2499.83L484.58 2477.37L486.2 2458.65L487.45 2448.67L488.57 2446.42L489.82 2449.91L491.07 2462.39L492.31 2481.11L493.56 2506.07L494.93 2531.02L496.43 2555.98L498.3 2573.45L500.8 2582.18L505.17 2585.3L508.91 2585.93Z" fill="none" stroke="#7dbcdf" stroke-width="0.8" stroke-opacity="0.8"/>
</g>
<path d="M344.5 2411.06H520.5V2586.13" stroke="#8f8f8f" stroke-width="1.2" fill="none"/>
<path d="M344.5 2411.06V2586.13H520.5" stroke="#0a0a0a" stroke-width="1.1" fill="none"/>
<path d="M507.91 2586.13H519.9" stroke="#7dbcdf" stroke-width="1.1" stroke-opacity="0.85" fill="none"/>
<path d="M355.34 2586.13v5.6M384.63 2586.13v5.6M413.32 2586.13v5.6M461.29 2586.13v5.6M502.72 2586.13v5.6" stroke="#0a0a0a" stroke-width="1.4" fill="none"/>
<path d="M427.76 2586.13v2.8M436.21 2586.13v2.8M442.2 2586.13v2.8M446.85 2586.13v2.8M450.65 2586.13v2.8M453.86 2586.13v2.8M456.64 2586.13v2.8M459.1 2586.13v2.8M473.77 2586.13v2.8M481.06 2586.13v2.8M486.24 2586.13v2.8M490.25 2586.13v2.8M493.53 2586.13v2.8M496.31 2586.13v2.8M498.71 2586.13v2.8M500.83 2586.13v2.8M514.32 2586.13v2.8M390.93 2586.13v2.8M378.2 2586.13v2.8M396 2586.13v2.8M373.02 2586.13v2.8M399.87 2586.13v2.8M369.07 2586.13v2.8M402.9 2586.13v2.8M365.97 2586.13v2.8M405.36 2586.13v2.8M363.47 2586.13v2.8M407.41 2586.13v2.8M361.37 2586.13v2.8M409.18 2586.13v2.8M359.57 2586.13v2.8M410.72 2586.13v2.8M357.99 2586.13v2.8M412.09 2586.13v2.8M356.6 2586.13v2.8" stroke="#0a0a0a" stroke-width="0.9" fill="none"/>
<path d="M380.76 2586.13v4.2M382.87 2586.13v4.2M384.98 2586.13v4.2M386.92 2586.13v4.2" stroke="#0a0a0a" stroke-width="1.9" fill="none"/>
<text x="359.68" y="2601.13" font-size="6.3" font-weight="bold" text-anchor="middle" fill="#1a1a1a">-10<tspan dx="1.7" dy="-3.3" font-size="5.5">3</tspan></text>
<text x="387.27" y="2601.13" font-size="6.3" font-weight="bold" text-anchor="middle" fill="#1a1a1a">0</text>
<text x="418" y="2601.13" font-size="6.3" font-weight="bold" text-anchor="middle" fill="#1a1a1a">10<tspan dx="1.7" dy="-3.3" font-size="5.5">3</tspan></text>
<text x="465.98" y="2601.13" font-size="6.3" font-weight="bold" text-anchor="middle" fill="#1a1a1a">10<tspan dx="1.7" dy="-3.3" font-size="5.5">4</tspan></text>
<text x="507.41" y="2601.13" font-size="6.3" font-weight="bold" text-anchor="middle" fill="#1a1a1a">10<tspan dx="1.7" dy="-3.3" font-size="5.5">5</tspan></text>
<path d="M344.5 2533.5H462.5M345 2537.2v-7.4M462.5 2537.2v-7.4" stroke="#0a0a0a" stroke-width="1.2" fill="none"/>
<text x="394.18" y="2523.3" font-size="18.49" stroke="#000" stroke-width="0.28">67.5</text>
</g>
<g id="he6">
<rect x="537.5" y="2411.06" width="176" height="175.07" fill="#fff"/>
<clipPath id="ce6"><rect x="537.5" y="2411.06" width="176" height="175.07"/></clipPath>
<clipPath id="re6"><path d="M575.88 2585.93L578.37 2579.69L580.25 2568.46L581.87 2553.48L583.37 2542.25L584.86 2536.01L586.49 2534.77L588.11 2539.76L589.6 2549.74L591.48 2559.72L593.97 2565.96L597.09 2568.46L600.21 2570.33L603.33 2571.58L607.07 2569.71L610.82 2569.08L614.56 2567.21L617.68 2562.22L620.18 2554.73L622.67 2543.5L624.54 2533.52L626.42 2518.54L628.29 2503.57L630.16 2494.84L632.03 2484.85L633.53 2478.61L635.15 2477.99L636.4 2471.13L637.65 2462.39L639.27 2456.15L640.77 2458.65L642.26 2461.14L643.89 2460.52L645.51 2462.39L647.01 2466.14L648.63 2468.01L650.12 2468.63L651.37 2473.62L652.62 2479.86L654.49 2487.35L656.36 2496.08L657.61 2502.32L658.86 2503.57L660.11 2509.81L661.36 2518.54L662.6 2529.77L663.85 2537.26L665.1 2539.76L666.72 2534.77L668.22 2529.15L669.72 2527.9L671.34 2530.4L673.21 2536.01L675.08 2543.5L676.95 2549.74L678.82 2554.73L680.7 2556.23L682.57 2557.48L684.44 2562.22L686.31 2569.71L688.18 2577.19L690.68 2582.18L694.42 2585.3L698.17 2585.93Z"/></clipPath>
<g clip-path="url(#ce6)" stroke-linejoin="round">
<path d="M575.88 2585.93L578.37 2579.69L580.25 2568.46L581.87 2553.48L583.37 2542.25L584.86 2536.01L586.49 2534.77L588.11 2539.76L589.6 2549.74L591.48 2559.72L593.97 2565.96L597.09 2568.46L600.21 2570.33L603.33 2571.58L607.07 2569.71L610.82 2569.08L614.56 2567.21L617.68 2562.22L620.18 2554.73L622.67 2543.5L624.54 2533.52L626.42 2518.54L628.29 2503.57L630.16 2494.84L632.03 2484.85L633.53 2478.61L635.15 2477.99L636.4 2471.13L637.65 2462.39L639.27 2456.15L640.77 2458.65L642.26 2461.14L643.89 2460.52L645.51 2462.39L647.01 2466.14L648.63 2468.01L650.12 2468.63L651.37 2473.62L652.62 2479.86L654.49 2487.35L656.36 2496.08L657.61 2502.32L658.86 2503.57L660.11 2509.81L661.36 2518.54L662.6 2529.77L663.85 2537.26L665.1 2539.76L666.72 2534.77L668.22 2529.15L669.72 2527.9L671.34 2530.4L673.21 2536.01L675.08 2543.5L676.95 2549.74L678.82 2554.73L680.7 2556.23L682.57 2557.48L684.44 2562.22L686.31 2569.71L688.18 2577.19L690.68 2582.18L694.42 2585.3L698.17 2585.93Z" fill="#f9b5a3"/>
<path d="M577.75 2585.93L582.12 2582.18L585.86 2579.69L590.85 2580.31L598.34 2581.93L605.83 2580.94L609.57 2579.69L614.56 2581.19L624.54 2582.43L634.53 2581.56L643.26 2582.81L653.24 2582.43L660.73 2580.94L665.1 2577.19L668.22 2568.46L670.71 2549.74L672.59 2531.02L674.46 2506.07L676.33 2481.11L677.95 2459.9L679.2 2447.42L680.2 2443.05L681.32 2447.42L682.57 2459.9L684.19 2481.11L685.69 2506.07L687.19 2524.78L688.81 2543.5L690.68 2564.71L692.93 2578.44L695.67 2583.43L699.41 2585.68L703.16 2585.93Z" fill="#bbdff4"/>
<path d="M577.75 2585.93L582.12 2582.18L585.86 2579.69L590.85 2580.31L598.34 2581.93L605.83 2580.94L609.57 2579.69L614.56 2581.19L624.54 2582.43L634.53 2581.56L643.26 2582.81L653.24 2582.43L660.73 2580.94L665.1 2577.19L668.22 2568.46L670.71 2549.74L672.59 2531.02L674.46 2506.07L676.33 2481.11L677.95 2459.9L679.2 2447.42L680.2 2443.05L681.32 2447.42L682.57 2459.9L684.19 2481.11L685.69 2506.07L687.19 2524.78L688.81 2543.5L690.68 2564.71L692.93 2578.44L695.67 2583.43L699.41 2585.68L703.16 2585.93Z" fill="#b9b3b6" clip-path="url(#re6)"/>
<path d="M575.88 2585.93L578.37 2579.69L580.25 2568.46L581.87 2553.48L583.37 2542.25L584.86 2536.01L586.49 2534.77L588.11 2539.76L589.6 2549.74L591.48 2559.72L593.97 2565.96L597.09 2568.46L600.21 2570.33L603.33 2571.58L607.07 2569.71L610.82 2569.08L614.56 2567.21L617.68 2562.22L620.18 2554.73L622.67 2543.5L624.54 2533.52L626.42 2518.54L628.29 2503.57L630.16 2494.84L632.03 2484.85L633.53 2478.61L635.15 2477.99L636.4 2471.13L637.65 2462.39L639.27 2456.15L640.77 2458.65L642.26 2461.14L643.89 2460.52L645.51 2462.39L647.01 2466.14L648.63 2468.01L650.12 2468.63L651.37 2473.62L652.62 2479.86L654.49 2487.35L656.36 2496.08L657.61 2502.32L658.86 2503.57L660.11 2509.81L661.36 2518.54L662.6 2529.77L663.85 2537.26L665.1 2539.76L666.72 2534.77L668.22 2529.15L669.72 2527.9L671.34 2530.4L673.21 2536.01L675.08 2543.5L676.95 2549.74L678.82 2554.73L680.7 2556.23L682.57 2557.48L684.44 2562.22L686.31 2569.71L688.18 2577.19L690.68 2582.18L694.42 2585.3L698.17 2585.93Z" fill="none" stroke="#cf5349" stroke-width="1.15"/>
<path d="M577.75 2585.93L582.12 2582.18L585.86 2579.69L590.85 2580.31L598.34 2581.93L605.83 2580.94L609.57 2579.69L614.56 2581.19L624.54 2582.43L634.53 2581.56L643.26 2582.81L653.24 2582.43L660.73 2580.94L665.1 2577.19L668.22 2568.46L670.71 2549.74L672.59 2531.02L674.46 2506.07L676.33 2481.11L677.95 2459.9L679.2 2447.42L680.2 2443.05L681.32 2447.42L682.57 2459.9L684.19 2481.11L685.69 2506.07L687.19 2524.78L688.81 2543.5L690.68 2564.71L692.93 2578.44L695.67 2583.43L699.41 2585.68L703.16 2585.93Z" fill="none" stroke="#7dbcdf" stroke-width="0.8" stroke-opacity="0.8"/>
</g>
<path d="M537.5 2411.06H713.5V2586.13" stroke="#8f8f8f" stroke-width="1.2" fill="none"/>
<path d="M537.5 2411.06V2586.13H713.5" stroke="#0a0a0a" stroke-width="1.1" fill="none"/>
<path d="M702.16 2586.13H712.9" stroke="#7dbcdf" stroke-width="1.1" stroke-opacity="0.85" fill="none"/>
<path d="M548.34 2586.13v5.6M577.63 2586.13v5.6M606.32 2586.13v5.6M654.29 2586.13v5.6M695.72 2586.13v5.6" stroke="#0a0a0a" stroke-width="1.4" fill="none"/>
<path d="M620.76 2586.13v2.8M629.21 2586.13v2.8M635.2 2586.13v2.8M639.85 2586.13v2.8M643.65 2586.13v2.8M646.86 2586.13v2.8M649.64 2586.13v2.8M652.1 2586.13v2.8M666.77 2586.13v2.8M674.06 2586.13v2.8M679.24 2586.13v2.8M683.25 2586.13v2.8M686.53 2586.13v2.8M689.31 2586.13v2.8M691.71 2586.13v2.8M693.83 2586.13v2.8M707.32 2586.13v2.8M583.93 2586.13v2.8M571.2 2586.13v2.8M589 2586.13v2.8M566.02 2586.13v2.8M592.87 2586.13v2.8M562.07 2586.13v2.8M595.9 2586.13v2.8M558.97 2586.13v2.8M598.36 2586.13v2.8M556.47 2586.13v2.8M600.41 2586.13v2.8M554.37 2586.13v2.8M602.18 2586.13v2.8M552.57 2586.13v2.8M603.72 2586.13v2.8M550.99 2586.13v2.8M605.09 2586.13v2.8M549.6 2586.13v2.8" stroke="#0a0a0a" stroke-width="0.9" fill="none"/>
<path d="M573.76 2586.13v4.2M575.87 2586.13v4.2M577.98 2586.13v4.2M579.92 2586.13v4.2" stroke="#0a0a0a" stroke-width="1.9" fill="none"/>
<text x="552.68" y="2601.13" font-size="6.3" font-weight="bold" text-anchor="middle" fill="#1a1a1a">-10<tspan dx="1.7" dy="-3.3" font-size="5.5">3</tspan></text>
<text x="580.27" y="2601.13" font-size="6.3" font-weight="bold" text-anchor="middle" fill="#1a1a1a">0</text>
<text x="611" y="2601.13" font-size="6.3" font-weight="bold" text-anchor="middle" fill="#1a1a1a">10<tspan dx="1.7" dy="-3.3" font-size="5.5">3</tspan></text>
<text x="658.98" y="2601.13" font-size="6.3" font-weight="bold" text-anchor="middle" fill="#1a1a1a">10<tspan dx="1.7" dy="-3.3" font-size="5.5">4</tspan></text>
<text x="700.41" y="2601.13" font-size="6.3" font-weight="bold" text-anchor="middle" fill="#1a1a1a">10<tspan dx="1.7" dy="-3.3" font-size="5.5">5</tspan></text>
<path d="M537.5 2533.5H655.5M538 2537.2v-7.4M655.5 2537.2v-7.4" stroke="#0a0a0a" stroke-width="1.2" fill="none"/>
<text x="587.18" y="2523.3" font-size="18.37" stroke="#000" stroke-width="0.28">72.4</text>
</g>
<g id="hf1">
<rect x="1148.5" y="2180.43" width="176" height="174.82" fill="#fff"/>
<clipPath id="cf1"><rect x="1148.5" y="2180.43" width="176" height="174.82"/></clipPath>
<clipPath id="rf1"><path d="M1185.01 2355.05L1187.5 2349.69L1190 2340.95L1192.49 2332.22L1194.37 2328.47L1196.86 2328.47L1199.36 2333.47L1201.85 2337.83L1204.35 2339.08L1206.84 2340.95L1209.34 2343.2L1211.84 2340.33L1214.33 2338.21L1216.83 2339.71L1219.32 2341.58L1221.82 2338.46L1224.31 2332.22L1226.81 2325.98L1228.68 2317.24L1230.3 2307.26L1231.8 2298.53L1233.3 2296.66L1235.29 2296.03L1236.79 2288.54L1238.29 2276.07L1239.91 2266.08L1241.78 2265.46L1243.03 2265.46L1244.28 2257.35L1245.53 2249.86L1246.77 2248.36L1248.27 2254.85L1249.89 2266.08L1251.52 2272.95L1253.01 2269.83L1254.26 2262.34L1255.51 2256.72L1257.01 2257.35L1258.25 2266.08L1259.5 2279.81L1260.75 2292.29L1262 2298.53L1263.62 2296.03L1265.49 2289.79L1267.36 2287.3L1268.99 2289.79L1270.48 2298.53L1272.36 2311.01L1274.23 2318.49L1276.1 2319.74L1277.97 2318.24L1279.84 2320.99L1282.34 2328.47L1285.46 2335.96L1288.58 2343.45L1291.7 2349.69L1295.44 2354.06L1299.18 2355.05Z"/></clipPath>
<g clip-path="url(#cf1)" stroke-linejoin="round">
<path d="M1185.01 2355.05L1187.5 2349.69L1190 2340.95L1192.49 2332.22L1194.37 2328.47L1196.86 2328.47L1199.36 2333.47L1201.85 2337.83L1204.35 2339.08L1206.84 2340.95L1209.34 2343.2L1211.84 2340.33L1214.33 2338.21L1216.83 2339.71L1219.32 2341.58L1221.82 2338.46L1224.31 2332.22L1226.81 2325.98L1228.68 2317.24L1230.3 2307.26L1231.8 2298.53L1233.3 2296.66L1235.29 2296.03L1236.79 2288.54L1238.29 2276.07L1239.91 2266.08L1241.78 2265.46L1243.03 2265.46L1244.28 2257.35L1245.53 2249.86L1246.77 2248.36L1248.27 2254.85L1249.89 2266.08L1251.52 2272.95L1253.01 2269.83L1254.26 2262.34L1255.51 2256.72L1257.01 2257.35L1258.25 2266.08L1259.5 2279.81L1260.75 2292.29L1262 2298.53L1263.62 2296.03L1265.49 2289.79L1267.36 2287.3L1268.99 2289.79L1270.48 2298.53L1272.36 2311.01L1274.23 2318.49L1276.1 2319.74L1277.97 2318.24L1279.84 2320.99L1282.34 2328.47L1285.46 2335.96L1288.58 2343.45L1291.7 2349.69L1295.44 2354.06L1299.18 2355.05Z" fill="#f9b5a3"/>
<path d="M1186.88 2355.05L1191.87 2350.94L1195.61 2349.44L1200.6 2351.56L1210.59 2353.18L1219.32 2353.43L1226.81 2352.18L1235.54 2353.43L1248.02 2353.18L1258.01 2351.56L1264.24 2349.69L1267.99 2344.7L1270.48 2334.71L1272.98 2319.74L1275.23 2304.77L1276.97 2282.31L1278.59 2259.84L1279.84 2244.87L1281.46 2234.89L1282.96 2231.14L1284.21 2222.41L1285.46 2217.42L1286.71 2219.91L1287.95 2232.39L1289.2 2251.11L1290.45 2269.83L1291.7 2288.54L1293.19 2307.26L1294.82 2323.48L1296.69 2338.46L1299.18 2349.69L1301.68 2354.06L1305.42 2355.05Z" fill="#bbdff4"/>
<path d="M1186.88 2355.05L1191.87 2350.94L1195.61 2349.44L1200.6 2351.56L1210.59 2353.18L1219.32 2353.43L1226.81 2352.18L1235.54 2353.43L1248.02 2353.18L1258.01 2351.56L1264.24 2349.69L1267.99 2344.7L1270.48 2334.71L1272.98 2319.74L1275.23 2304.77L1276.97 2282.31L1278.59 2259.84L1279.84 2244.87L1281.46 2234.89L1282.96 2231.14L1284.21 2222.41L1285.46 2217.42L1286.71 2219.91L1287.95 2232.39L1289.2 2251.11L1290.45 2269.83L1291.7 2288.54L1293.19 2307.26L1294.82 2323.48L1296.69 2338.46L1299.18 2349.69L1301.68 2354.06L1305.42 2355.05Z" fill="#b9b3b6" clip-path="url(#rf1)"/>
<path d="M1185.01 2355.05L1187.5 2349.69L1190 2340.95L1192.49 2332.22L1194.37 2328.47L1196.86 2328.47L1199.36 2333.47L1201.85 2337.83L1204.35 2339.08L1206.84 2340.95L1209.34 2343.2L1211.84 2340.33L1214.33 2338.21L1216.83 2339.71L1219.32 2341.58L1221.82 2338.46L1224.31 2332.22L1226.81 2325.98L1228.68 2317.24L1230.3 2307.26L1231.8 2298.53L1233.3 2296.66L1235.29 2296.03L1236.79 2288.54L1238.29 2276.07L1239.91 2266.08L1241.78 2265.46L1243.03 2265.46L1244.28 2257.35L1245.53 2249.86L1246.77 2248.36L1248.27 2254.85L1249.89 2266.08L1251.52 2272.95L1253.01 2269.83L1254.26 2262.34L1255.51 2256.72L1257.01 2257.35L1258.25 2266.08L1259.5 2279.81L1260.75 2292.29L1262 2298.53L1263.62 2296.03L1265.49 2289.79L1267.36 2287.3L1268.99 2289.79L1270.48 2298.53L1272.36 2311.01L1274.23 2318.49L1276.1 2319.74L1277.97 2318.24L1279.84 2320.99L1282.34 2328.47L1285.46 2335.96L1288.58 2343.45L1291.7 2349.69L1295.44 2354.06L1299.18 2355.05Z" fill="none" stroke="#cf5349" stroke-width="1.15"/>
<path d="M1186.88 2355.05L1191.87 2350.94L1195.61 2349.44L1200.6 2351.56L1210.59 2353.18L1219.32 2353.43L1226.81 2352.18L1235.54 2353.43L1248.02 2353.18L1258.01 2351.56L1264.24 2349.69L1267.99 2344.7L1270.48 2334.71L1272.98 2319.74L1275.23 2304.77L1276.97 2282.31L1278.59 2259.84L1279.84 2244.87L1281.46 2234.89L1282.96 2231.14L1284.21 2222.41L1285.46 2217.42L1286.71 2219.91L1287.95 2232.39L1289.2 2251.11L1290.45 2269.83L1291.7 2288.54L1293.19 2307.26L1294.82 2323.48L1296.69 2338.46L1299.18 2349.69L1301.68 2354.06L1305.42 2355.05Z" fill="none" stroke="#7dbcdf" stroke-width="0.8" stroke-opacity="0.8"/>
</g>
<path d="M1148.5 2180.43H1324.5V2355.25" stroke="#8f8f8f" stroke-width="1.2" fill="none"/>
<path d="M1148.5 2180.43V2355.25H1324.5" stroke="#0a0a0a" stroke-width="1.25" fill="none"/>
<path d="M1304.42 2355.25H1323.9" stroke="#7dbcdf" stroke-width="1.1" stroke-opacity="0.85" fill="none"/>
<path d="M1159.34 2355.25v5.6M1188.63 2355.25v5.6M1217.32 2355.25v5.6M1265.29 2355.25v5.6M1306.72 2355.25v5.6" stroke="#0a0a0a" stroke-width="1.4" fill="none"/>
<path d="M1231.76 2355.25v2.8M1240.21 2355.25v2.8M1246.2 2355.25v2.8M1250.85 2355.25v2.8M1254.65 2355.25v2.8M1257.86 2355.25v2.8M1260.64 2355.25v2.8M1263.1 2355.25v2.8M1277.77 2355.25v2.8M1285.06 2355.25v2.8M1290.24 2355.25v2.8M1294.25 2355.25v2.8M1297.53 2355.25v2.8M1300.31 2355.25v2.8M1302.71 2355.25v2.8M1304.83 2355.25v2.8M1318.32 2355.25v2.8M1194.93 2355.25v2.8M1182.2 2355.25v2.8M1200 2355.25v2.8M1177.02 2355.25v2.8M1203.87 2355.25v2.8M1173.07 2355.25v2.8M1206.9 2355.25v2.8M1169.97 2355.25v2.8M1209.36 2355.25v2.8M1167.47 2355.25v2.8M1211.41 2355.25v2.8M1165.37 2355.25v2.8M1213.18 2355.25v2.8M1163.57 2355.25v2.8M1214.72 2355.25v2.8M1161.99 2355.25v2.8M1216.09 2355.25v2.8M1160.6 2355.25v2.8" stroke="#0a0a0a" stroke-width="0.9" fill="none"/>
<path d="M1184.76 2355.25v4.2M1186.87 2355.25v4.2M1188.98 2355.25v4.2M1190.92 2355.25v4.2" stroke="#0a0a0a" stroke-width="1.9" fill="none"/>
<text x="1163.68" y="2370.25" font-size="6.3" font-weight="bold" text-anchor="middle" fill="#1a1a1a">-10<tspan dx="1.7" dy="-3.3" font-size="5.5">3</tspan></text>
<text x="1191.27" y="2370.25" font-size="6.3" font-weight="bold" text-anchor="middle" fill="#1a1a1a">0</text>
<text x="1222" y="2370.25" font-size="6.3" font-weight="bold" text-anchor="middle" fill="#1a1a1a">10<tspan dx="1.7" dy="-3.3" font-size="5.5">3</tspan></text>
<text x="1269.98" y="2370.25" font-size="6.3" font-weight="bold" text-anchor="middle" fill="#1a1a1a">10<tspan dx="1.7" dy="-3.3" font-size="5.5">4</tspan></text>
<text x="1311.41" y="2370.25" font-size="6.3" font-weight="bold" text-anchor="middle" fill="#1a1a1a">10<tspan dx="1.7" dy="-3.3" font-size="5.5">5</tspan></text>
<path d="M1148.5 2355.25h-4.8M1148.5 2321.91h-4.8M1148.5 2288.57h-4.8M1148.5 2255.23h-4.8M1148.5 2221.89h-4.8M1148.5 2188.54h-4.8" stroke="#0a0a0a" stroke-width="1.3" fill="none"/>
<path d="M1148.5 2346.92h-2.4M1148.5 2338.58h-2.4M1148.5 2330.25h-2.4M1148.5 2313.58h-2.4M1148.5 2305.24h-2.4M1148.5 2296.91h-2.4M1148.5 2280.23h-2.4M1148.5 2271.9h-2.4M1148.5 2263.56h-2.4M1148.5 2246.89h-2.4M1148.5 2238.56h-2.4M1148.5 2230.22h-2.4M1148.5 2213.55h-2.4M1148.5 2205.21h-2.4M1148.5 2196.88h-2.4" stroke="#0a0a0a" stroke-width="1" fill="none"/>
<text x="1139" y="2355.45" font-size="5.6" text-anchor="end" font-weight="bold" fill="#1a1a1a">0</text>
<text x="1139" y="2323.91" font-size="5.6" text-anchor="end" font-weight="bold" fill="#1a1a1a">20</text>
<text x="1139" y="2290.57" font-size="5.6" text-anchor="end" font-weight="bold" fill="#1a1a1a">40</text>
<text x="1139" y="2257.23" font-size="5.6" text-anchor="end" font-weight="bold" fill="#1a1a1a">60</text>
<text x="1139" y="2223.89" font-size="5.6" text-anchor="end" font-weight="bold" fill="#1a1a1a">80</text>
<text x="1139" y="2190.54" font-size="5.6" text-anchor="end" font-weight="bold" fill="#1a1a1a">100</text>
<path d="M1148.5 2302.5H1266.5M1149 2306.2v-7.4M1266.5 2306.2v-7.4" stroke="#0a0a0a" stroke-width="1.2" fill="none"/>
<text x="1198.17" y="2292.9" font-size="18.54" stroke="#000" stroke-width="0.28">78.9</text>
</g>
<g id="hf2">
<rect x="1343.5" y="2180.43" width="176" height="174.82" fill="#fff"/>
<clipPath id="cf2"><rect x="1343.5" y="2180.43" width="176" height="174.82"/></clipPath>
<clipPath id="rf2"><path d="M1380.38 2355.05L1382.5 2349.69L1384.37 2339.71L1386.25 2330.97L1388.12 2325.98L1389.99 2324.98L1392.49 2328.47L1395.6 2334.71L1398.72 2342.2L1401.22 2347.19L1403.09 2347.82L1405.59 2344.7L1408.71 2339.71L1411.2 2336.59L1413.07 2335.96L1414.95 2337.83L1416.82 2338.46L1418.69 2335.96L1420.56 2329.72L1423.06 2322.24L1425.55 2313.5L1427.42 2307.26L1428.67 2301.02L1429.92 2288.54L1431.17 2272.32L1432.04 2263.59L1433.04 2262.96L1434.29 2268.58L1435.54 2271.07L1436.78 2267.33L1438.66 2264.21L1440.53 2263.59L1442.4 2258.6L1443.65 2247.37L1444.89 2236.14L1446.14 2233.02L1447.39 2241.13L1448.64 2251.11L1449.51 2255.48L1450.51 2252.36L1452.01 2249.86L1453.25 2254.85L1454.5 2267.33L1455.75 2277.31L1456.75 2281.06L1458 2274.82L1459.24 2266.08L1460.24 2264.59L1461.49 2272.32L1462.74 2284.8L1463.99 2297.28L1465.23 2304.77L1466.73 2302.27L1468.6 2300.4L1470.23 2302.27L1471.72 2309.76L1473.59 2317.24L1475.47 2319.12L1477.34 2319.74L1479.21 2325.98L1481.08 2334.71L1483.58 2343.45L1486.7 2349.69L1490.44 2353.43L1494.18 2355.05Z"/></clipPath>
<g clip-path="url(#cf2)" stroke-linejoin="round">
<path d="M1380.38 2355.05L1382.5 2349.69L1384.37 2339.71L1386.25 2330.97L1388.12 2325.98L1389.99 2324.98L1392.49 2328.47L1395.6 2334.71L1398.72 2342.2L1401.22 2347.19L1403.09 2347.82L1405.59 2344.7L1408.71 2339.71L1411.2 2336.59L1413.07 2335.96L1414.95 2337.83L1416.82 2338.46L1418.69 2335.96L1420.56 2329.72L1423.06 2322.24L1425.55 2313.5L1427.42 2307.26L1428.67 2301.02L1429.92 2288.54L1431.17 2272.32L1432.04 2263.59L1433.04 2262.96L1434.29 2268.58L1435.54 2271.07L1436.78 2267.33L1438.66 2264.21L1440.53 2263.59L1442.4 2258.6L1443.65 2247.37L1444.89 2236.14L1446.14 2233.02L1447.39 2241.13L1448.64 2251.11L1449.51 2255.48L1450.51 2252.36L1452.01 2249.86L1453.25 2254.85L1454.5 2267.33L1455.75 2277.31L1456.75 2281.06L1458 2274.82L1459.24 2266.08L1460.24 2264.59L1461.49 2272.32L1462.74 2284.8L1463.99 2297.28L1465.23 2304.77L1466.73 2302.27L1468.6 2300.4L1470.23 2302.27L1471.72 2309.76L1473.59 2317.24L1475.47 2319.12L1477.34 2319.74L1479.21 2325.98L1481.08 2334.71L1483.58 2343.45L1486.7 2349.69L1490.44 2353.43L1494.18 2355.05Z" fill="#f9b5a3"/>
<path d="M1381.88 2355.05L1386.87 2351.56L1390.61 2349.69L1395.6 2352.18L1405.59 2353.18L1418.07 2353.18L1428.05 2352.18L1433.04 2350.69L1439.28 2352.43L1446.77 2352.18L1453.01 2349.69L1458 2345.94L1462.36 2340.95L1464.86 2332.22L1466.73 2319.74L1468.6 2307.26L1470.47 2294.78L1471.97 2276.07L1473.59 2251.11L1474.84 2229.9L1476.09 2213.67L1477.34 2205.56L1478.34 2204.94L1479.46 2208.68L1480.46 2206.19L1481.46 2204.32L1482.45 2207.44L1483.58 2219.91L1484.82 2234.89L1486.07 2251.11L1487.32 2269.83L1488.57 2288.54L1489.82 2307.26L1491.44 2325.98L1493.56 2342.2L1496.06 2350.94L1499.18 2354.43L1502.92 2355.05Z" fill="#bbdff4"/>
<path d="M1381.88 2355.05L1386.87 2351.56L1390.61 2349.69L1395.6 2352.18L1405.59 2353.18L1418.07 2353.18L1428.05 2352.18L1433.04 2350.69L1439.28 2352.43L1446.77 2352.18L1453.01 2349.69L1458 2345.94L1462.36 2340.95L1464.86 2332.22L1466.73 2319.74L1468.6 2307.26L1470.47 2294.78L1471.97 2276.07L1473.59 2251.11L1474.84 2229.9L1476.09 2213.67L1477.34 2205.56L1478.34 2204.94L1479.46 2208.68L1480.46 2206.19L1481.46 2204.32L1482.45 2207.44L1483.58 2219.91L1484.82 2234.89L1486.07 2251.11L1487.32 2269.83L1488.57 2288.54L1489.82 2307.26L1491.44 2325.98L1493.56 2342.2L1496.06 2350.94L1499.18 2354.43L1502.92 2355.05Z" fill="#b9b3b6" clip-path="url(#rf2)"/>
<path d="M1380.38 2355.05L1382.5 2349.69L1384.37 2339.71L1386.25 2330.97L1388.12 2325.98L1389.99 2324.98L1392.49 2328.47L1395.6 2334.71L1398.72 2342.2L1401.22 2347.19L1403.09 2347.82L1405.59 2344.7L1408.71 2339.71L1411.2 2336.59L1413.07 2335.96L1414.95 2337.83L1416.82 2338.46L1418.69 2335.96L1420.56 2329.72L1423.06 2322.24L1425.55 2313.5L1427.42 2307.26L1428.67 2301.02L1429.92 2288.54L1431.17 2272.32L1432.04 2263.59L1433.04 2262.96L1434.29 2268.58L1435.54 2271.07L1436.78 2267.33L1438.66 2264.21L1440.53 2263.59L1442.4 2258.6L1443.65 2247.37L1444.89 2236.14L1446.14 2233.02L1447.39 2241.13L1448.64 2251.11L1449.51 2255.48L1450.51 2252.36L1452.01 2249.86L1453.25 2254.85L1454.5 2267.33L1455.75 2277.31L1456.75 2281.06L1458 2274.82L1459.24 2266.08L1460.24 2264.59L1461.49 2272.32L1462.74 2284.8L1463.99 2297.28L1465.23 2304.77L1466.73 2302.27L1468.6 2300.4L1470.23 2302.27L1471.72 2309.76L1473.59 2317.24L1475.47 2319.12L1477.34 2319.74L1479.21 2325.98L1481.08 2334.71L1483.58 2343.45L1486.7 2349.69L1490.44 2353.43L1494.18 2355.05Z" fill="none" stroke="#cf5349" stroke-width="1.15"/>
<path d="M1381.88 2355.05L1386.87 2351.56L1390.61 2349.69L1395.6 2352.18L1405.59 2353.18L1418.07 2353.18L1428.05 2352.18L1433.04 2350.69L1439.28 2352.43L1446.77 2352.18L1453.01 2349.69L1458 2345.94L1462.36 2340.95L1464.86 2332.22L1466.73 2319.74L1468.6 2307.26L1470.47 2294.78L1471.97 2276.07L1473.59 2251.11L1474.84 2229.9L1476.09 2213.67L1477.34 2205.56L1478.34 2204.94L1479.46 2208.68L1480.46 2206.19L1481.46 2204.32L1482.45 2207.44L1483.58 2219.91L1484.82 2234.89L1486.07 2251.11L1487.32 2269.83L1488.57 2288.54L1489.82 2307.26L1491.44 2325.98L1493.56 2342.2L1496.06 2350.94L1499.18 2354.43L1502.92 2355.05Z" fill="none" stroke="#7dbcdf" stroke-width="0.8" stroke-opacity="0.8"/>
</g>
<path d="M1343.5 2180.43H1519.5V2355.25" stroke="#8f8f8f" stroke-width="1.2" fill="none"/>
<path d="M1343.5 2180.43V2355.25H1519.5" stroke="#0a0a0a" stroke-width="1.1" fill="none"/>
<path d="M1501.92 2355.25H1518.9" stroke="#7dbcdf" stroke-width="1.1" stroke-opacity="0.85" fill="none"/>
<path d="M1354.34 2355.25v5.6M1383.63 2355.25v5.6M1412.32 2355.25v5.6M1460.29 2355.25v5.6M1501.72 2355.25v5.6" stroke="#0a0a0a" stroke-width="1.4" fill="none"/>
<path d="M1426.76 2355.25v2.8M1435.21 2355.25v2.8M1441.2 2355.25v2.8M1445.85 2355.25v2.8M1449.65 2355.25v2.8M1452.86 2355.25v2.8M1455.64 2355.25v2.8M1458.1 2355.25v2.8M1472.77 2355.25v2.8M1480.06 2355.25v2.8M1485.24 2355.25v2.8M1489.25 2355.25v2.8M1492.53 2355.25v2.8M1495.31 2355.25v2.8M1497.71 2355.25v2.8M1499.83 2355.25v2.8M1513.32 2355.25v2.8M1389.93 2355.25v2.8M1377.2 2355.25v2.8M1395 2355.25v2.8M1372.02 2355.25v2.8M1398.87 2355.25v2.8M1368.07 2355.25v2.8M1401.9 2355.25v2.8M1364.97 2355.25v2.8M1404.36 2355.25v2.8M1362.47 2355.25v2.8M1406.41 2355.25v2.8M1360.37 2355.25v2.8M1408.18 2355.25v2.8M1358.57 2355.25v2.8M1409.72 2355.25v2.8M1356.99 2355.25v2.8M1411.09 2355.25v2.8M1355.6 2355.25v2.8" stroke="#0a0a0a" stroke-width="0.9" fill="none"/>
<path d="M1379.76 2355.25v4.2M1381.87 2355.25v4.2M1383.98 2355.25v4.2M1385.92 2355.25v4.2" stroke="#0a0a0a" stroke-width="1.9" fill="none"/>
<text x="1358.68" y="2370.25" font-size="6.3" font-weight="bold" text-anchor="middle" fill="#1a1a1a">-10<tspan dx="1.7" dy="-3.3" font-size="5.5">3</tspan></text>
<text x="1386.27" y="2370.25" font-size="6.3" font-weight="bold" text-anchor="middle" fill="#1a1a1a">0</text>
<text x="1417" y="2370.25" font-size="6.3" font-weight="bold" text-anchor="middle" fill="#1a1a1a">10<tspan dx="1.7" dy="-3.3" font-size="5.5">3</tspan></text>
<text x="1464.98" y="2370.25" font-size="6.3" font-weight="bold" text-anchor="middle" fill="#1a1a1a">10<tspan dx="1.7" dy="-3.3" font-size="5.5">4</tspan></text>
<text x="1506.41" y="2370.25" font-size="6.3" font-weight="bold" text-anchor="middle" fill="#1a1a1a">10<tspan dx="1.7" dy="-3.3" font-size="5.5">5</tspan></text>
<path d="M1343.5 2302.5H1461.5M1344 2306.2v-7.4M1461.5 2306.2v-7.4" stroke="#0a0a0a" stroke-width="1.2" fill="none"/>
<text x="1393.18" y="2292.9" font-size="18.49" stroke="#000" stroke-width="0.28">79.5</text>
</g>
<g id="hf3">
<rect x="1539.5" y="2180.43" width="176" height="174.82" fill="#fff"/>
<clipPath id="cf3"><rect x="1539.5" y="2180.43" width="176" height="174.82"/></clipPath>
<clipPath id="rf3"><path d="M1576.63 2355.05L1579.13 2349.69L1581 2340.95L1582.87 2330.97L1584.37 2324.73L1585.99 2322.86L1587.86 2325.98L1589.73 2332.22L1592.23 2338.46L1595.35 2342.82L1598.47 2345.32L1600.96 2345.94L1603.46 2342.2L1605.95 2335.96L1608.45 2331.59L1610.95 2329.72L1613.44 2324.73L1615.94 2319.74L1618.43 2314.75L1620.93 2307.26L1622.8 2297.28L1624.67 2288.54L1626.54 2279.81L1628.42 2272.32L1629.66 2267.33L1630.91 2266.08L1632.16 2269.83L1633.41 2267.33L1634.66 2257.35L1635.9 2244.87L1637.15 2236.14L1638.4 2233.64L1640.27 2232.39L1641.52 2227.4L1642.77 2223.03L1644.01 2226.15L1645.26 2238.63L1646.51 2251.11L1647.76 2264.84L1649.01 2274.82L1650.25 2279.81L1651.5 2276.07L1652.75 2270.45L1654.25 2269.2L1655.87 2272.32L1657.74 2278.56L1659.61 2284.8L1661.48 2293.54L1663.98 2302.27L1666.47 2311.01L1668.97 2316L1671.47 2319.74L1673.96 2322.86L1676.46 2327.23L1678.95 2335.96L1681.45 2345.94L1683.94 2351.56L1687.69 2354.43L1691.43 2355.05Z"/></clipPath>
<g clip-path="url(#cf3)" stroke-linejoin="round">
<path d="M1576.63 2355.05L1579.13 2349.69L1581 2340.95L1582.87 2330.97L1584.37 2324.73L1585.99 2322.86L1587.86 2325.98L1589.73 2332.22L1592.23 2338.46L1595.35 2342.82L1598.47 2345.32L1600.96 2345.94L1603.46 2342.2L1605.95 2335.96L1608.45 2331.59L1610.95 2329.72L1613.44 2324.73L1615.94 2319.74L1618.43 2314.75L1620.93 2307.26L1622.8 2297.28L1624.67 2288.54L1626.54 2279.81L1628.42 2272.32L1629.66 2267.33L1630.91 2266.08L1632.16 2269.83L1633.41 2267.33L1634.66 2257.35L1635.9 2244.87L1637.15 2236.14L1638.4 2233.64L1640.27 2232.39L1641.52 2227.4L1642.77 2223.03L1644.01 2226.15L1645.26 2238.63L1646.51 2251.11L1647.76 2264.84L1649.01 2274.82L1650.25 2279.81L1651.5 2276.07L1652.75 2270.45L1654.25 2269.2L1655.87 2272.32L1657.74 2278.56L1659.61 2284.8L1661.48 2293.54L1663.98 2302.27L1666.47 2311.01L1668.97 2316L1671.47 2319.74L1673.96 2322.86L1676.46 2327.23L1678.95 2335.96L1681.45 2345.94L1683.94 2351.56L1687.69 2354.43L1691.43 2355.05Z" fill="#f9b5a3"/>
<path d="M1577.88 2355.05L1585.37 2352.81L1595.35 2353.18L1602.84 2352.18L1607.83 2350.31L1612.82 2352.18L1620.31 2350.94L1625.3 2350.69L1630.29 2352.43L1640.27 2352.43L1650.25 2350.94L1656.49 2349.69L1659.61 2344.7L1662.11 2332.22L1663.98 2319.74L1665.85 2307.26L1667.72 2288.54L1669.59 2269.83L1671.47 2251.11L1673.34 2232.39L1674.96 2218.67L1676.46 2211.8L1677.71 2217.42L1678.95 2232.39L1680.2 2251.11L1681.7 2272.32L1683.32 2294.78L1684.94 2317.24L1686.69 2334.71L1688.94 2347.19L1692.06 2353.18L1696.42 2355.05Z" fill="#bbdff4"/>
<path d="M1577.88 2355.05L1585.37 2352.81L1595.35 2353.18L1602.84 2352.18L1607.83 2350.31L1612.82 2352.18L1620.31 2350.94L1625.3 2350.69L1630.29 2352.43L1640.27 2352.43L1650.25 2350.94L1656.49 2349.69L1659.61 2344.7L1662.11 2332.22L1663.98 2319.74L1665.85 2307.26L1667.72 2288.54L1669.59 2269.83L1671.47 2251.11L1673.34 2232.39L1674.96 2218.67L1676.46 2211.8L1677.71 2217.42L1678.95 2232.39L1680.2 2251.11L1681.7 2272.32L1683.32 2294.78L1684.94 2317.24L1686.69 2334.71L1688.94 2347.19L1692.06 2353.18L1696.42 2355.05Z" fill="#b9b3b6" clip-path="url(#rf3)"/>
<path d="M1576.63 2355.05L1579.13 2349.69L1581 2340.95L1582.87 2330.97L1584.37 2324.73L1585.99 2322.86L1587.86 2325.98L1589.73 2332.22L1592.23 2338.46L1595.35 2342.82L1598.47 2345.32L1600.96 2345.94L1603.46 2342.2L1605.95 2335.96L1608.45 2331.59L1610.95 2329.72L1613.44 2324.73L1615.94 2319.74L1618.43 2314.75L1620.93 2307.26L1622.8 2297.28L1624.67 2288.54L1626.54 2279.81L1628.42 2272.32L1629.66 2267.33L1630.91 2266.08L1632.16 2269.83L1633.41 2267.33L1634.66 2257.35L1635.9 2244.87L1637.15 2236.14L1638.4 2233.64L1640.27 2232.39L1641.52 2227.4L1642.77 2223.03L1644.01 2226.15L1645.26 2238.63L1646.51 2251.11L1647.76 2264.84L1649.01 2274.82L1650.25 2279.81L1651.5 2276.07L1652.75 2270.45L1654.25 2269.2L1655.87 2272.32L1657.74 2278.56L1659.61 2284.8L1661.48 2293.54L1663.98 2302.27L1666.47 2311.01L1668.97 2316L1671.47 2319.74L1673.96 2322.86L1676.46 2327.23L1678.95 2335.96L1681.45 2345.94L1683.94 2351.56L1687.69 2354.43L1691.43 2355.05Z" fill="none" stroke="#cf5349" stroke-width="1.15"/>
<path d="M1577.88 2355.05L1585.37 2352.81L1595.35 2353.18L1602.84 2352.18L1607.83 2350.31L1612.82 2352.18L1620.31 2350.94L1625.3 2350.69L1630.29 2352.43L1640.27 2352.43L1650.25 2350.94L1656.49 2349.69L1659.61 2344.7L1662.11 2332.22L1663.98 2319.74L1665.85 2307.26L1667.72 2288.54L1669.59 2269.83L1671.47 2251.11L1673.34 2232.39L1674.96 2218.67L1676.46 2211.8L1677.71 2217.42L1678.95 2232.39L1680.2 2251.11L1681.7 2272.32L1683.32 2294.78L1684.94 2317.24L1686.69 2334.71L1688.94 2347.19L1692.06 2353.18L1696.42 2355.05Z" fill="none" stroke="#7dbcdf" stroke-width="0.8" stroke-opacity="0.8"/>
</g>
<path d="M1539.5 2180.43H1715.5V2355.25" stroke="#8f8f8f" stroke-width="1.2" fill="none"/>
<path d="M1539.5 2180.43V2355.25H1715.5" stroke="#0a0a0a" stroke-width="1.1" fill="none"/>
<path d="M1695.42 2355.25H1714.9" stroke="#7dbcdf" stroke-width="1.1" stroke-opacity="0.85" fill="none"/>
<path d="M1550.34 2355.25v5.6M1579.63 2355.25v5.6M1608.32 2355.25v5.6M1656.29 2355.25v5.6M1697.72 2355.25v5.6" stroke="#0a0a0a" stroke-width="1.4" fill="none"/>
<path d="M1622.76 2355.25v2.8M1631.21 2355.25v2.8M1637.2 2355.25v2.8M1641.85 2355.25v2.8M1645.65 2355.25v2.8M1648.86 2355.25v2.8M1651.64 2355.25v2.8M1654.1 2355.25v2.8M1668.77 2355.25v2.8M1676.06 2355.25v2.8M1681.24 2355.25v2.8M1685.25 2355.25v2.8M1688.53 2355.25v2.8M1691.31 2355.25v2.8M1693.71 2355.25v2.8M1695.83 2355.25v2.8M1709.32 2355.25v2.8M1585.93 2355.25v2.8M1573.2 2355.25v2.8M1591 2355.25v2.8M1568.02 2355.25v2.8M1594.87 2355.25v2.8M1564.07 2355.25v2.8M1597.9 2355.25v2.8M1560.97 2355.25v2.8M1600.36 2355.25v2.8M1558.47 2355.25v2.8M1602.41 2355.25v2.8M1556.37 2355.25v2.8M1604.18 2355.25v2.8M1554.57 2355.25v2.8M1605.72 2355.25v2.8M1552.99 2355.25v2.8M1607.09 2355.25v2.8M1551.6 2355.25v2.8" stroke="#0a0a0a" stroke-width="0.9" fill="none"/>
<path d="M1575.76 2355.25v4.2M1577.87 2355.25v4.2M1579.98 2355.25v4.2M1581.92 2355.25v4.2" stroke="#0a0a0a" stroke-width="1.9" fill="none"/>
<text x="1554.68" y="2370.25" font-size="6.3" font-weight="bold" text-anchor="middle" fill="#1a1a1a">-10<tspan dx="1.7" dy="-3.3" font-size="5.5">3</tspan></text>
<text x="1582.27" y="2370.25" font-size="6.3" font-weight="bold" text-anchor="middle" fill="#1a1a1a">0</text>
<text x="1613" y="2370.25" font-size="6.3" font-weight="bold" text-anchor="middle" fill="#1a1a1a">10<tspan dx="1.7" dy="-3.3" font-size="5.5">3</tspan></text>
<text x="1660.98" y="2370.25" font-size="6.3" font-weight="bold" text-anchor="middle" fill="#1a1a1a">10<tspan dx="1.7" dy="-3.3" font-size="5.5">4</tspan></text>
<text x="1702.41" y="2370.25" font-size="6.3" font-weight="bold" text-anchor="middle" fill="#1a1a1a">10<tspan dx="1.7" dy="-3.3" font-size="5.5">5</tspan></text>
<path d="M1539.5 2302.5H1657.5M1540 2306.2v-7.4M1657.5 2306.2v-7.4" stroke="#0a0a0a" stroke-width="1.2" fill="none"/>
<text x="1589.17" y="2292.9" font-size="18.52" stroke="#000" stroke-width="0.28">78.8</text>
</g>
<g id="hf4">
<rect x="1148.5" y="2411.06" width="176" height="175.07" fill="#fff"/>
<clipPath id="cf4"><rect x="1148.5" y="2411.06" width="176" height="175.07"/></clipPath>
<clipPath id="rf4"><path d="M1186.25 2585.93L1190.62 2583.43L1194.37 2580.31L1198.11 2577.19L1202.48 2576.19L1204.35 2570.95L1206.22 2564.71L1208.09 2559.72L1210.59 2554.73L1213.08 2548.49L1215.58 2542.25L1217.45 2534.77L1219.32 2524.78L1220.82 2514.8L1222.07 2503.57L1223.07 2496.08L1224.31 2494.84L1225.56 2496.71L1226.81 2498.58L1228.06 2496.08L1229.31 2487.35L1230.55 2474.87L1231.8 2462.39L1233.05 2456.78L1234.3 2459.9L1235.54 2468.63L1236.54 2467.38L1237.79 2461.14L1239.29 2459.9L1240.54 2461.14L1241.78 2457.4L1243.28 2456.15L1244.53 2458.65L1245.78 2464.89L1247.02 2468.63L1248.27 2469.88L1249.27 2477.37L1250.52 2487.35L1251.77 2497.33L1253.01 2502.32L1254.89 2501.7L1256.13 2506.07L1257.38 2514.8L1258.63 2523.54L1259.88 2531.02L1261.12 2537.26L1263 2539.76L1265.49 2541.01L1267.99 2544.12L1269.86 2549.74L1271.73 2557.23L1273.6 2564.71L1275.47 2572.2L1277.35 2575.94L1279.84 2575.69L1282.96 2576.19L1285.46 2579.69L1287.95 2583.43L1290.45 2585.93Z"/></clipPath>
<g clip-path="url(#cf4)" stroke-linejoin="round">
<path d="M1186.25 2585.93L1190.62 2583.43L1194.37 2580.31L1198.11 2577.19L1202.48 2576.19L1204.35 2570.95L1206.22 2564.71L1208.09 2559.72L1210.59 2554.73L1213.08 2548.49L1215.58 2542.25L1217.45 2534.77L1219.32 2524.78L1220.82 2514.8L1222.07 2503.57L1223.07 2496.08L1224.31 2494.84L1225.56 2496.71L1226.81 2498.58L1228.06 2496.08L1229.31 2487.35L1230.55 2474.87L1231.8 2462.39L1233.05 2456.78L1234.3 2459.9L1235.54 2468.63L1236.54 2467.38L1237.79 2461.14L1239.29 2459.9L1240.54 2461.14L1241.78 2457.4L1243.28 2456.15L1244.53 2458.65L1245.78 2464.89L1247.02 2468.63L1248.27 2469.88L1249.27 2477.37L1250.52 2487.35L1251.77 2497.33L1253.01 2502.32L1254.89 2501.7L1256.13 2506.07L1257.38 2514.8L1258.63 2523.54L1259.88 2531.02L1261.12 2537.26L1263 2539.76L1265.49 2541.01L1267.99 2544.12L1269.86 2549.74L1271.73 2557.23L1273.6 2564.71L1275.47 2572.2L1277.35 2575.94L1279.84 2575.69L1282.96 2576.19L1285.46 2579.69L1287.95 2583.43L1290.45 2585.93Z" fill="#f9b5a3"/>
<path d="M1241.78 2585.93L1249.27 2584.43L1256.76 2582.18L1261.75 2577.19L1264.87 2568.46L1267.36 2558.47L1269.24 2549.74L1270.73 2537.26L1271.98 2518.54L1273.23 2499.83L1274.85 2484.85L1276.72 2473.62L1278.59 2464.89L1279.84 2453.66L1281.09 2441.18L1282.09 2435.56L1283.21 2441.18L1284.21 2456.15L1285.46 2474.87L1286.71 2493.59L1287.95 2512.31L1289.2 2531.02L1290.45 2549.74L1291.7 2565.96L1293.57 2577.19L1296.06 2582.81L1300.43 2585.3L1305.42 2585.93Z" fill="#bbdff4"/>
<path d="M1241.78 2585.93L1249.27 2584.43L1256.76 2582.18L1261.75 2577.19L1264.87 2568.46L1267.36 2558.47L1269.24 2549.74L1270.73 2537.26L1271.98 2518.54L1273.23 2499.83L1274.85 2484.85L1276.72 2473.62L1278.59 2464.89L1279.84 2453.66L1281.09 2441.18L1282.09 2435.56L1283.21 2441.18L1284.21 2456.15L1285.46 2474.87L1286.71 2493.59L1287.95 2512.31L1289.2 2531.02L1290.45 2549.74L1291.7 2565.96L1293.57 2577.19L1296.06 2582.81L1300.43 2585.3L1305.42 2585.93Z" fill="#b9b3b6" clip-path="url(#rf4)"/>
<path d="M1186.25 2585.93L1190.62 2583.43L1194.37 2580.31L1198.11 2577.19L1202.48 2576.19L1204.35 2570.95L1206.22 2564.71L1208.09 2559.72L1210.59 2554.73L1213.08 2548.49L1215.58 2542.25L1217.45 2534.77L1219.32 2524.78L1220.82 2514.8L1222.07 2503.57L1223.07 2496.08L1224.31 2494.84L1225.56 2496.71L1226.81 2498.58L1228.06 2496.08L1229.31 2487.35L1230.55 2474.87L1231.8 2462.39L1233.05 2456.78L1234.3 2459.9L1235.54 2468.63L1236.54 2467.38L1237.79 2461.14L1239.29 2459.9L1240.54 2461.14L1241.78 2457.4L1243.28 2456.15L1244.53 2458.65L1245.78 2464.89L1247.02 2468.63L1248.27 2469.88L1249.27 2477.37L1250.52 2487.35L1251.77 2497.33L1253.01 2502.32L1254.89 2501.7L1256.13 2506.07L1257.38 2514.8L1258.63 2523.54L1259.88 2531.02L1261.12 2537.26L1263 2539.76L1265.49 2541.01L1267.99 2544.12L1269.86 2549.74L1271.73 2557.23L1273.6 2564.71L1275.47 2572.2L1277.35 2575.94L1279.84 2575.69L1282.96 2576.19L1285.46 2579.69L1287.95 2583.43L1290.45 2585.93Z" fill="none" stroke="#cf5349" stroke-width="1.15"/>
<path d="M1241.78 2585.93L1249.27 2584.43L1256.76 2582.18L1261.75 2577.19L1264.87 2568.46L1267.36 2558.47L1269.24 2549.74L1270.73 2537.26L1271.98 2518.54L1273.23 2499.83L1274.85 2484.85L1276.72 2473.62L1278.59 2464.89L1279.84 2453.66L1281.09 2441.18L1282.09 2435.56L1283.21 2441.18L1284.21 2456.15L1285.46 2474.87L1286.71 2493.59L1287.95 2512.31L1289.2 2531.02L1290.45 2549.74L1291.7 2565.96L1293.57 2577.19L1296.06 2582.81L1300.43 2585.3L1305.42 2585.93Z" fill="none" stroke="#7dbcdf" stroke-width="0.8" stroke-opacity="0.8"/>
</g>
<path d="M1148.5 2411.06H1324.5V2586.13" stroke="#8f8f8f" stroke-width="1.2" fill="none"/>
<path d="M1148.5 2411.06V2586.13H1324.5" stroke="#0a0a0a" stroke-width="1.25" fill="none"/>
<path d="M1304.42 2586.13H1323.9" stroke="#7dbcdf" stroke-width="1.1" stroke-opacity="0.85" fill="none"/>
<path d="M1159.34 2586.13v5.6M1188.63 2586.13v5.6M1217.32 2586.13v5.6M1265.29 2586.13v5.6M1306.72 2586.13v5.6" stroke="#0a0a0a" stroke-width="1.4" fill="none"/>
<path d="M1231.76 2586.13v2.8M1240.21 2586.13v2.8M1246.2 2586.13v2.8M1250.85 2586.13v2.8M1254.65 2586.13v2.8M1257.86 2586.13v2.8M1260.64 2586.13v2.8M1263.1 2586.13v2.8M1277.77 2586.13v2.8M1285.06 2586.13v2.8M1290.24 2586.13v2.8M1294.25 2586.13v2.8M1297.53 2586.13v2.8M1300.31 2586.13v2.8M1302.71 2586.13v2.8M1304.83 2586.13v2.8M1318.32 2586.13v2.8M1194.93 2586.13v2.8M1182.2 2586.13v2.8M1200 2586.13v2.8M1177.02 2586.13v2.8M1203.87 2586.13v2.8M1173.07 2586.13v2.8M1206.9 2586.13v2.8M1169.97 2586.13v2.8M1209.36 2586.13v2.8M1167.47 2586.13v2.8M1211.41 2586.13v2.8M1165.37 2586.13v2.8M1213.18 2586.13v2.8M1163.57 2586.13v2.8M1214.72 2586.13v2.8M1161.99 2586.13v2.8M1216.09 2586.13v2.8M1160.6 2586.13v2.8" stroke="#0a0a0a" stroke-width="0.9" fill="none"/>
<path d="M1184.76 2586.13v4.2M1186.87 2586.13v4.2M1188.98 2586.13v4.2M1190.92 2586.13v4.2" stroke="#0a0a0a" stroke-width="1.9" fill="none"/>
<text x="1163.68" y="2601.13" font-size="6.3" font-weight="bold" text-anchor="middle" fill="#1a1a1a">-10<tspan dx="1.7" dy="-3.3" font-size="5.5">3</tspan></text>
<text x="1191.27" y="2601.13" font-size="6.3" font-weight="bold" text-anchor="middle" fill="#1a1a1a">0</text>
<text x="1222" y="2601.13" font-size="6.3" font-weight="bold" text-anchor="middle" fill="#1a1a1a">10<tspan dx="1.7" dy="-3.3" font-size="5.5">3</tspan></text>
<text x="1269.98" y="2601.13" font-size="6.3" font-weight="bold" text-anchor="middle" fill="#1a1a1a">10<tspan dx="1.7" dy="-3.3" font-size="5.5">4</tspan></text>
<text x="1311.41" y="2601.13" font-size="6.3" font-weight="bold" text-anchor="middle" fill="#1a1a1a">10<tspan dx="1.7" dy="-3.3" font-size="5.5">5</tspan></text>
<path d="M1148.5 2586.13h-4.8M1148.5 2552.74h-4.8M1148.5 2519.35h-4.8M1148.5 2485.96h-4.8M1148.5 2452.57h-4.8M1148.5 2419.18h-4.8" stroke="#0a0a0a" stroke-width="1.3" fill="none"/>
<path d="M1148.5 2577.78h-2.4M1148.5 2569.43h-2.4M1148.5 2561.09h-2.4M1148.5 2544.39h-2.4M1148.5 2536.04h-2.4M1148.5 2527.7h-2.4M1148.5 2511h-2.4M1148.5 2502.65h-2.4M1148.5 2494.31h-2.4M1148.5 2477.61h-2.4M1148.5 2469.26h-2.4M1148.5 2460.92h-2.4M1148.5 2444.22h-2.4M1148.5 2435.87h-2.4M1148.5 2427.53h-2.4" stroke="#0a0a0a" stroke-width="1" fill="none"/>
<text x="1139" y="2586.33" font-size="5.6" text-anchor="end" font-weight="bold" fill="#1a1a1a">0</text>
<text x="1139" y="2554.74" font-size="5.6" text-anchor="end" font-weight="bold" fill="#1a1a1a">20</text>
<text x="1139" y="2521.35" font-size="5.6" text-anchor="end" font-weight="bold" fill="#1a1a1a">40</text>
<text x="1139" y="2487.96" font-size="5.6" text-anchor="end" font-weight="bold" fill="#1a1a1a">60</text>
<text x="1139" y="2454.57" font-size="5.6" text-anchor="end" font-weight="bold" fill="#1a1a1a">80</text>
<text x="1139" y="2421.18" font-size="5.6" text-anchor="end" font-weight="bold" fill="#1a1a1a">100</text>
<path d="M1148.5 2533.5H1266.5M1149 2537.2v-7.4M1266.5 2537.2v-7.4" stroke="#0a0a0a" stroke-width="1.2" fill="none"/>
<rect x="1221.19" y="2504.19" width="9.98" height="23.71" fill="#fff" fill-opacity="0.8"/>
<text x="1198.23" y="2523.3" font-size="18.34" stroke="#000" stroke-width="0.28">91.4</text>
</g>
<g id="hf5">
<rect x="1343.5" y="2411.06" width="176" height="175.07" fill="#fff"/>
<clipPath id="cf5"><rect x="1343.5" y="2411.06" width="176" height="175.07"/></clipPath>
<clipPath id="rf5"><path d="M1384.37 2585.93L1388.12 2583.43L1391.86 2580.31L1395.6 2579.06L1398.72 2575.94L1401.22 2570.95L1403.72 2564.71L1406.21 2557.23L1408.08 2549.74L1409.95 2539.76L1411.2 2531.02L1413.07 2522.29L1414.95 2514.8L1416.57 2506.07L1417.82 2497.33L1419.06 2487.35L1420.06 2481.11L1421.19 2479.86L1422.43 2484.85L1423.43 2488.6L1424.68 2483.6L1425.93 2474.87L1427.18 2464.89L1428.67 2456.15L1430.17 2452.41L1431.42 2450.91L1432.67 2454.9L1433.91 2461.14L1435.16 2463.64L1436.41 2468.63L1437.66 2474.25L1438.9 2468.63L1440.53 2464.26L1442.4 2467.38L1444.02 2471.13L1445.27 2477.37L1446.52 2487.35L1447.76 2497.33L1449.26 2506.07L1451.13 2514.8L1453.01 2523.54L1454.88 2532.27L1456.75 2537.26L1458.62 2546L1460.49 2552.24L1462.99 2558.47L1466.11 2564.71L1469.85 2570.95L1474.22 2577.19L1479.21 2581.56L1484.2 2584.68L1487.94 2585.93Z"/></clipPath>
<g clip-path="url(#cf5)" stroke-linejoin="round">
<path d="M1384.37 2585.93L1388.12 2583.43L1391.86 2580.31L1395.6 2579.06L1398.72 2575.94L1401.22 2570.95L1403.72 2564.71L1406.21 2557.23L1408.08 2549.74L1409.95 2539.76L1411.2 2531.02L1413.07 2522.29L1414.95 2514.8L1416.57 2506.07L1417.82 2497.33L1419.06 2487.35L1420.06 2481.11L1421.19 2479.86L1422.43 2484.85L1423.43 2488.6L1424.68 2483.6L1425.93 2474.87L1427.18 2464.89L1428.67 2456.15L1430.17 2452.41L1431.42 2450.91L1432.67 2454.9L1433.91 2461.14L1435.16 2463.64L1436.41 2468.63L1437.66 2474.25L1438.9 2468.63L1440.53 2464.26L1442.4 2467.38L1444.02 2471.13L1445.27 2477.37L1446.52 2487.35L1447.76 2497.33L1449.26 2506.07L1451.13 2514.8L1453.01 2523.54L1454.88 2532.27L1456.75 2537.26L1458.62 2546L1460.49 2552.24L1462.99 2558.47L1466.11 2564.71L1469.85 2570.95L1474.22 2577.19L1479.21 2581.56L1484.2 2584.68L1487.94 2585.93Z" fill="#f9b5a3"/>
<path d="M1443.02 2585.93L1449.26 2584.06L1455.5 2579.69L1460.49 2572.2L1463.61 2562.22L1465.73 2549.74L1467.36 2534.77L1468.98 2512.31L1470.47 2489.84L1471.72 2474.87L1472.97 2464.89L1473.84 2463.64L1474.84 2469.88L1476.09 2473.62L1477.71 2476.12L1478.96 2484.85L1480.21 2499.83L1481.71 2518.54L1483.58 2537.26L1485.45 2555.98L1487.32 2570.95L1489.82 2580.94L1492.94 2585.3L1496.68 2585.93Z" fill="#bbdff4"/>
<path d="M1443.02 2585.93L1449.26 2584.06L1455.5 2579.69L1460.49 2572.2L1463.61 2562.22L1465.73 2549.74L1467.36 2534.77L1468.98 2512.31L1470.47 2489.84L1471.72 2474.87L1472.97 2464.89L1473.84 2463.64L1474.84 2469.88L1476.09 2473.62L1477.71 2476.12L1478.96 2484.85L1480.21 2499.83L1481.71 2518.54L1483.58 2537.26L1485.45 2555.98L1487.32 2570.95L1489.82 2580.94L1492.94 2585.3L1496.68 2585.93Z" fill="#b9b3b6" clip-path="url(#rf5)"/>
<path d="M1384.37 2585.93L1388.12 2583.43L1391.86 2580.31L1395.6 2579.06L1398.72 2575.94L1401.22 2570.95L1403.72 2564.71L1406.21 2557.23L1408.08 2549.74L1409.95 2539.76L1411.2 2531.02L1413.07 2522.29L1414.95 2514.8L1416.57 2506.07L1417.82 2497.33L1419.06 2487.35L1420.06 2481.11L1421.19 2479.86L1422.43 2484.85L1423.43 2488.6L1424.68 2483.6L1425.93 2474.87L1427.18 2464.89L1428.67 2456.15L1430.17 2452.41L1431.42 2450.91L1432.67 2454.9L1433.91 2461.14L1435.16 2463.64L1436.41 2468.63L1437.66 2474.25L1438.9 2468.63L1440.53 2464.26L1442.4 2467.38L1444.02 2471.13L1445.27 2477.37L1446.52 2487.35L1447.76 2497.33L1449.26 2506.07L1451.13 2514.8L1453.01 2523.54L1454.88 2532.27L1456.75 2537.26L1458.62 2546L1460.49 2552.24L1462.99 2558.47L1466.11 2564.71L1469.85 2570.95L1474.22 2577.19L1479.21 2581.56L1484.2 2584.68L1487.94 2585.93Z" fill="none" stroke="#cf5349" stroke-width="1.15"/>
<path d="M1443.02 2585.93L1449.26 2584.06L1455.5 2579.69L1460.49 2572.2L1463.61 2562.22L1465.73 2549.74L1467.36 2534.77L1468.98 2512.31L1470.47 2489.84L1471.72 2474.87L1472.97 2464.89L1473.84 2463.64L1474.84 2469.88L1476.09 2473.62L1477.71 2476.12L1478.96 2484.85L1480.21 2499.83L1481.71 2518.54L1483.58 2537.26L1485.45 2555.98L1487.32 2570.95L1489.82 2580.94L1492.94 2585.3L1496.68 2585.93Z" fill="none" stroke="#7dbcdf" stroke-width="0.8" stroke-opacity="0.8"/>
</g>
<path d="M1343.5 2411.06H1519.5V2586.13" stroke="#8f8f8f" stroke-width="1.2" fill="none"/>
<path d="M1343.5 2411.06V2586.13H1519.5" stroke="#0a0a0a" stroke-width="1.1" fill="none"/>
<path d="M1495.68 2586.13H1518.9" stroke="#7dbcdf" stroke-width="1.1" stroke-opacity="0.85" fill="none"/>
<path d="M1354.34 2586.13v5.6M1383.63 2586.13v5.6M1412.32 2586.13v5.6M1460.29 2586.13v5.6M1501.72 2586.13v5.6" stroke="#0a0a0a" stroke-width="1.4" fill="none"/>
<path d="M1426.76 2586.13v2.8M1435.21 2586.13v2.8M1441.2 2586.13v2.8M1445.85 2586.13v2.8M1449.65 2586.13v2.8M1452.86 2586.13v2.8M1455.64 2586.13v2.8M1458.1 2586.13v2.8M1472.77 2586.13v2.8M1480.06 2586.13v2.8M1485.24 2586.13v2.8M1489.25 2586.13v2.8M1492.53 2586.13v2.8M1495.31 2586.13v2.8M1497.71 2586.13v2.8M1499.83 2586.13v2.8M1513.32 2586.13v2.8M1389.93 2586.13v2.8M1377.2 2586.13v2.8M1395 2586.13v2.8M1372.02 2586.13v2.8M1398.87 2586.13v2.8M1368.07 2586.13v2.8M1401.9 2586.13v2.8M1364.97 2586.13v2.8M1404.36 2586.13v2.8M1362.47 2586.13v2.8M1406.41 2586.13v2.8M1360.37 2586.13v2.8M1408.18 2586.13v2.8M1358.57 2586.13v2.8M1409.72 2586.13v2.8M1356.99 2586.13v2.8M1411.09 2586.13v2.8M1355.6 2586.13v2.8" stroke="#0a0a0a" stroke-width="0.9" fill="none"/>
<path d="M1379.76 2586.13v4.2M1381.87 2586.13v4.2M1383.98 2586.13v4.2M1385.92 2586.13v4.2" stroke="#0a0a0a" stroke-width="1.9" fill="none"/>
<text x="1358.68" y="2601.13" font-size="6.3" font-weight="bold" text-anchor="middle" fill="#1a1a1a">-10<tspan dx="1.7" dy="-3.3" font-size="5.5">3</tspan></text>
<text x="1386.27" y="2601.13" font-size="6.3" font-weight="bold" text-anchor="middle" fill="#1a1a1a">0</text>
<text x="1417" y="2601.13" font-size="6.3" font-weight="bold" text-anchor="middle" fill="#1a1a1a">10<tspan dx="1.7" dy="-3.3" font-size="5.5">3</tspan></text>
<text x="1464.98" y="2601.13" font-size="6.3" font-weight="bold" text-anchor="middle" fill="#1a1a1a">10<tspan dx="1.7" dy="-3.3" font-size="5.5">4</tspan></text>
<text x="1506.41" y="2601.13" font-size="6.3" font-weight="bold" text-anchor="middle" fill="#1a1a1a">10<tspan dx="1.7" dy="-3.3" font-size="5.5">5</tspan></text>
<path d="M1343.5 2533.5H1461.5M1344 2537.2v-7.4M1461.5 2537.2v-7.4" stroke="#0a0a0a" stroke-width="1.2" fill="none"/>
<rect x="1418.69" y="2504.19" width="8.11" height="23.71" fill="#fff" fill-opacity="0.8"/>
<text x="1393.22" y="2523.3" font-size="18.57" stroke="#000" stroke-width="0.28">93.2</text>
</g>
<g id="hf6">
<rect x="1539.5" y="2411.06" width="176" height="175.07" fill="#fff"/>
<clipPath id="cf6"><rect x="1539.5" y="2411.06" width="176" height="175.07"/></clipPath>
<clipPath id="rf6"><path d="M1577.25 2585.93L1582.87 2583.18L1589.11 2579.69L1594.1 2577.19L1597.22 2575.94L1599.72 2572.2L1601.59 2564.71L1603.46 2558.47L1605.33 2550.99L1607.2 2543.5L1609.07 2536.01L1610.95 2527.28L1612.82 2518.54L1614.69 2509.81L1616.56 2502.32L1617.81 2493.59L1618.81 2481.11L1620.06 2472.37L1621.55 2467.38L1623.42 2461.14L1625.3 2454.9L1626.54 2449.91L1627.54 2448.67L1628.79 2453.66L1630.04 2461.14L1630.91 2463.64L1631.79 2458.65L1632.78 2449.91L1633.78 2444.3L1634.66 2443.67L1635.9 2449.91L1637.15 2461.14L1638.4 2466.14L1639.65 2469.88L1640.89 2474.25L1641.77 2477.37L1642.77 2472.37L1644.01 2476.12L1645.26 2487.35L1646.51 2499.83L1648.01 2509.81L1649.63 2518.54L1651.5 2524.78L1653.37 2529.77L1655.24 2537.26L1657.12 2546L1658.99 2554.73L1661.48 2559.72L1663.98 2564.71L1667.1 2570.95L1671.47 2577.19L1676.46 2582.18L1681.45 2585.3L1685.19 2585.93Z"/></clipPath>
<g clip-path="url(#cf6)" stroke-linejoin="round">
<path d="M1577.25 2585.93L1582.87 2583.18L1589.11 2579.69L1594.1 2577.19L1597.22 2575.94L1599.72 2572.2L1601.59 2564.71L1603.46 2558.47L1605.33 2550.99L1607.2 2543.5L1609.07 2536.01L1610.95 2527.28L1612.82 2518.54L1614.69 2509.81L1616.56 2502.32L1617.81 2493.59L1618.81 2481.11L1620.06 2472.37L1621.55 2467.38L1623.42 2461.14L1625.3 2454.9L1626.54 2449.91L1627.54 2448.67L1628.79 2453.66L1630.04 2461.14L1630.91 2463.64L1631.79 2458.65L1632.78 2449.91L1633.78 2444.3L1634.66 2443.67L1635.9 2449.91L1637.15 2461.14L1638.4 2466.14L1639.65 2469.88L1640.89 2474.25L1641.77 2477.37L1642.77 2472.37L1644.01 2476.12L1645.26 2487.35L1646.51 2499.83L1648.01 2509.81L1649.63 2518.54L1651.5 2524.78L1653.37 2529.77L1655.24 2537.26L1657.12 2546L1658.99 2554.73L1661.48 2559.72L1663.98 2564.71L1667.1 2570.95L1671.47 2577.19L1676.46 2582.18L1681.45 2585.3L1685.19 2585.93Z" fill="#f9b5a3"/>
<path d="M1655.24 2585.93L1660.24 2582.18L1663.98 2575.94L1667.1 2567.21L1668.97 2555.98L1670.47 2543.5L1672.09 2524.78L1673.71 2506.07L1675.21 2487.35L1676.46 2469.88L1677.71 2456.15L1678.95 2447.42L1680.82 2446.79L1682.32 2443.67L1683.57 2447.42L1684.57 2459.9L1685.82 2481.11L1687.06 2499.83L1688.69 2522.29L1690.18 2543.5L1692.06 2564.71L1694.55 2578.44L1697.67 2583.43L1701.41 2585.68L1705.16 2585.93Z" fill="#bbdff4"/>
<path d="M1655.24 2585.93L1660.24 2582.18L1663.98 2575.94L1667.1 2567.21L1668.97 2555.98L1670.47 2543.5L1672.09 2524.78L1673.71 2506.07L1675.21 2487.35L1676.46 2469.88L1677.71 2456.15L1678.95 2447.42L1680.82 2446.79L1682.32 2443.67L1683.57 2447.42L1684.57 2459.9L1685.82 2481.11L1687.06 2499.83L1688.69 2522.29L1690.18 2543.5L1692.06 2564.71L1694.55 2578.44L1697.67 2583.43L1701.41 2585.68L1705.16 2585.93Z" fill="#b9b3b6" clip-path="url(#rf6)"/>
<path d="M1577.25 2585.93L1582.87 2583.18L1589.11 2579.69L1594.1 2577.19L1597.22 2575.94L1599.72 2572.2L1601.59 2564.71L1603.46 2558.47L1605.33 2550.99L1607.2 2543.5L1609.07 2536.01L1610.95 2527.28L1612.82 2518.54L1614.69 2509.81L1616.56 2502.32L1617.81 2493.59L1618.81 2481.11L1620.06 2472.37L1621.55 2467.38L1623.42 2461.14L1625.3 2454.9L1626.54 2449.91L1627.54 2448.67L1628.79 2453.66L1630.04 2461.14L1630.91 2463.64L1631.79 2458.65L1632.78 2449.91L1633.78 2444.3L1634.66 2443.67L1635.9 2449.91L1637.15 2461.14L1638.4 2466.14L1639.65 2469.88L1640.89 2474.25L1641.77 2477.37L1642.77 2472.37L1644.01 2476.12L1645.26 2487.35L1646.51 2499.83L1648.01 2509.81L1649.63 2518.54L1651.5 2524.78L1653.37 2529.77L1655.24 2537.26L1657.12 2546L1658.99 2554.73L1661.48 2559.72L1663.98 2564.71L1667.1 2570.95L1671.47 2577.19L1676.46 2582.18L1681.45 2585.3L1685.19 2585.93Z" fill="none" stroke="#cf5349" stroke-width="1.15"/>
<path d="M1655.24 2585.93L1660.24 2582.18L1663.98 2575.94L1667.1 2567.21L1668.97 2555.98L1670.47 2543.5L1672.09 2524.78L1673.71 2506.07L1675.21 2487.35L1676.46 2469.88L1677.71 2456.15L1678.95 2447.42L1680.82 2446.79L1682.32 2443.67L1683.57 2447.42L1684.57 2459.9L1685.82 2481.11L1687.06 2499.83L1688.69 2522.29L1690.18 2543.5L1692.06 2564.71L1694.55 2578.44L1697.67 2583.43L1701.41 2585.68L1705.16 2585.93Z" fill="none" stroke="#7dbcdf" stroke-width="0.8" stroke-opacity="0.8"/>
</g>
<path d="M1539.5 2411.06H1715.5V2586.13" stroke="#8f8f8f" stroke-width="1.2" fill="none"/>
<path d="M1539.5 2411.06V2586.13H1715.5" stroke="#0a0a0a" stroke-width="1.1" fill="none"/>
<path d="M1704.16 2586.13H1714.9" stroke="#7dbcdf" stroke-width="1.1" stroke-opacity="0.85" fill="none"/>
<path d="M1550.34 2586.13v5.6M1579.63 2586.13v5.6M1608.32 2586.13v5.6M1656.29 2586.13v5.6M1697.72 2586.13v5.6" stroke="#0a0a0a" stroke-width="1.4" fill="none"/>
<path d="M1622.76 2586.13v2.8M1631.21 2586.13v2.8M1637.2 2586.13v2.8M1641.85 2586.13v2.8M1645.65 2586.13v2.8M1648.86 2586.13v2.8M1651.64 2586.13v2.8M1654.1 2586.13v2.8M1668.77 2586.13v2.8M1676.06 2586.13v2.8M1681.24 2586.13v2.8M1685.25 2586.13v2.8M1688.53 2586.13v2.8M1691.31 2586.13v2.8M1693.71 2586.13v2.8M1695.83 2586.13v2.8M1709.32 2586.13v2.8M1585.93 2586.13v2.8M1573.2 2586.13v2.8M1591 2586.13v2.8M1568.02 2586.13v2.8M1594.87 2586.13v2.8M1564.07 2586.13v2.8M1597.9 2586.13v2.8M1560.97 2586.13v2.8M1600.36 2586.13v2.8M1558.47 2586.13v2.8M1602.41 2586.13v2.8M1556.37 2586.13v2.8M1604.18 2586.13v2.8M1554.57 2586.13v2.8M1605.72 2586.13v2.8M1552.99 2586.13v2.8M1607.09 2586.13v2.8M1551.6 2586.13v2.8" stroke="#0a0a0a" stroke-width="0.9" fill="none"/>
<path d="M1575.76 2586.13v4.2M1577.87 2586.13v4.2M1579.98 2586.13v4.2M1581.92 2586.13v4.2" stroke="#0a0a0a" stroke-width="1.9" fill="none"/>
<text x="1554.68" y="2601.13" font-size="6.3" font-weight="bold" text-anchor="middle" fill="#1a1a1a">-10<tspan dx="1.7" dy="-3.3" font-size="5.5">3</tspan></text>
<text x="1582.27" y="2601.13" font-size="6.3" font-weight="bold" text-anchor="middle" fill="#1a1a1a">0</text>
<text x="1613" y="2601.13" font-size="6.3" font-weight="bold" text-anchor="middle" fill="#1a1a1a">10<tspan dx="1.7" dy="-3.3" font-size="5.5">3</tspan></text>
<text x="1660.98" y="2601.13" font-size="6.3" font-weight="bold" text-anchor="middle" fill="#1a1a1a">10<tspan dx="1.7" dy="-3.3" font-size="5.5">4</tspan></text>
<text x="1702.41" y="2601.13" font-size="6.3" font-weight="bold" text-anchor="middle" fill="#1a1a1a">10<tspan dx="1.7" dy="-3.3" font-size="5.5">5</tspan></text>
<path d="M1539.5 2533.5H1657.5M1540 2537.2v-7.4M1657.5 2537.2v-7.4" stroke="#0a0a0a" stroke-width="1.2" fill="none"/>
<rect x="1612.19" y="2504.19" width="9.98" height="23.71" fill="#fff" fill-opacity="0.8"/>
<text x="1589.22" y="2523.3" font-size="18.57" stroke="#000" stroke-width="0.28">92.2</text>
</g>
<text x="184.35" y="2622.8" font-size="12.5" stroke="#000" stroke-width="0.25" textLength="64.72" lengthAdjust="spacingAndGlyphs">CFSE (FITC)</text>
<g transform="translate(155.8 2628.8) rotate(0)"><path d="M0 0H118.2" stroke="#0c0c0c" stroke-width="1.2" fill="none"/><path d="M123.4 0Q119.49 -1.51 115.2 -4.2L117.2 0L115.2 4.2Q119.49 1.51 123.4 0Z" fill="#0c0c0c"/></g>
<path d="M837.3 2194.1V2503.1H1042.3M823.9 2503.1H837.3M823.9 2503.1H837.3M830 2487.74H837.3M830 2472.38H837.3M830 2457.02H837.3M830 2441.66H837.3M830 2426.3H837.3M830 2410.94H837.3M830 2395.58H837.3M830 2380.22H837.3M830 2364.86H837.3M823.9 2349.5H837.3M830 2334.14H837.3M830 2318.78H837.3M830 2303.42H837.3M830 2288.06H837.3M830 2272.7H837.3M830 2257.34H837.3M830 2241.98H837.3M830 2226.62H837.3M830 2211.26H837.3M823.9 2195.9H837.3M895.3 2503.1V2516.5M984 2503.1V2516.5" stroke="#000" stroke-width="3.6" fill="none" stroke-linejoin="miter"/>
<text x="818.3" y="2203.9" font-size="23.2" text-anchor="end" font-weight="bold">100</text>
<text x="818.3" y="2357.5" font-size="23.2" text-anchor="end" font-weight="bold">50</text>
<text x="818.3" y="2511.1" font-size="23.2" text-anchor="end" font-weight="bold">0</text>
<text font-size="24.6" font-weight="bold" transform="translate(768 2441.91) rotate(-90)">% dividing cells</text>
<path d="M895.3 2360V2243.3H984V2264" stroke="#000" stroke-width="3.2" fill="none"/>
<text x="901.31" y="2227.7" font-size="24.8" stroke="#000" stroke-width="0.27">0.0261</text>
<line x1="866" y1="2390.3" x2="925" y2="2390.3" stroke="#d93a22" stroke-width="3"/>
<g fill="#d93a22"><circle cx="895.3" cy="2376.7" r="4.9"/><circle cx="895.3" cy="2390.3" r="4.9"/><circle cx="895.3" cy="2401" r="4.9"/></g>
<line x1="954.3" y1="2295.7" x2="1012.7" y2="2295.7" stroke="#d9d9d9" stroke-width="3"/>
<g fill="#d9d9d9"><circle cx="983.3" cy="2281" r="4.9"/><circle cx="983.3" cy="2295.7" r="4.9"/><circle cx="983.3" cy="2353.3" r="4.9"/></g>
<text font-size="26" font-weight="bold" stroke="#000" stroke-width="0.35" textLength="114.46" lengthAdjust="spacingAndGlyphs" transform="translate(826.26 2615.94) rotate(-45)">CD28 Treg</text>
<text font-size="26" font-weight="bold" stroke="#000" stroke-width="0.35" textLength="111.88" lengthAdjust="spacingAndGlyphs" transform="translate(920.09 2621.91) rotate(-45)">CD28 CD4</text>
<path d="M1843 2193.9V2503.7H2047.3M1829.6 2503.7H1843M1829.6 2503.7H1843M1835.7 2488.3H1843M1835.7 2472.9H1843M1835.7 2457.5H1843M1835.7 2442.1H1843M1835.7 2426.7H1843M1835.7 2411.3H1843M1835.7 2395.9H1843M1835.7 2380.5H1843M1835.7 2365.1H1843M1829.6 2349.7H1843M1835.7 2334.3H1843M1835.7 2318.9H1843M1835.7 2303.5H1843M1835.7 2288.1H1843M1835.7 2272.7H1843M1835.7 2257.3H1843M1835.7 2241.9H1843M1835.7 2226.5H1843M1835.7 2211.1H1843M1829.6 2195.7H1843M1900.7 2503.7V2517.1M1989 2503.7V2517.1" stroke="#000" stroke-width="3.6" fill="none" stroke-linejoin="miter"/>
<text x="1824" y="2203.7" font-size="23.2" text-anchor="end" font-weight="bold">100</text>
<text x="1824" y="2357.7" font-size="23.2" text-anchor="end" font-weight="bold">50</text>
<text x="1824" y="2511.7" font-size="23.2" text-anchor="end" font-weight="bold">0</text>
<text font-size="24.6" font-weight="bold" transform="translate(1775 2441.91) rotate(-90)">% dividing cells</text>
<path d="M1900.7 2242.7V2180H1989V2200" stroke="#000" stroke-width="3.2" fill="none"/>
<text x="1899.06" y="2165" font-size="24.8" stroke="#000" stroke-width="0.27">&lt;0.0001</text>
<line x1="1871.3" y1="2261.3" x2="1929.7" y2="2261.3" stroke="#3f4eb5" stroke-width="3"/>
<g fill="#3f4eb5"><circle cx="1882.3" cy="2261.7" r="4.9"/><circle cx="1900.7" cy="2259.3" r="4.9"/><circle cx="1919" cy="2261.3" r="4.9"/></g>
<line x1="1959.7" y1="2220" x2="2018" y2="2220" stroke="#e0e0e0" stroke-width="3"/>
<g fill="#e0e0e0"><circle cx="1969.7" cy="2221.7" r="4.9"/><circle cx="1989" cy="2217.7" r="4.9"/><circle cx="2007.3" cy="2220" r="4.9"/></g>
<clipPath id="clipx1843"><rect x="1693" y="2503.7" width="400" height="119.6"/></clipPath><g clip-path="url(#clipx1843)">
<text font-size="26" font-weight="bold" stroke="#000" stroke-width="0.35" textLength="122.17" lengthAdjust="spacingAndGlyphs" transform="translate(1824.01 2626.99) rotate(-45)">4-1BB Treg</text>
<text font-size="26" font-weight="bold" stroke="#000" stroke-width="0.35" textLength="119.59" lengthAdjust="spacingAndGlyphs" transform="translate(1921.84 2631.56) rotate(-45)">4-1BB CD4</text>
</g>
</g>
</svg>
</body>
</html>
